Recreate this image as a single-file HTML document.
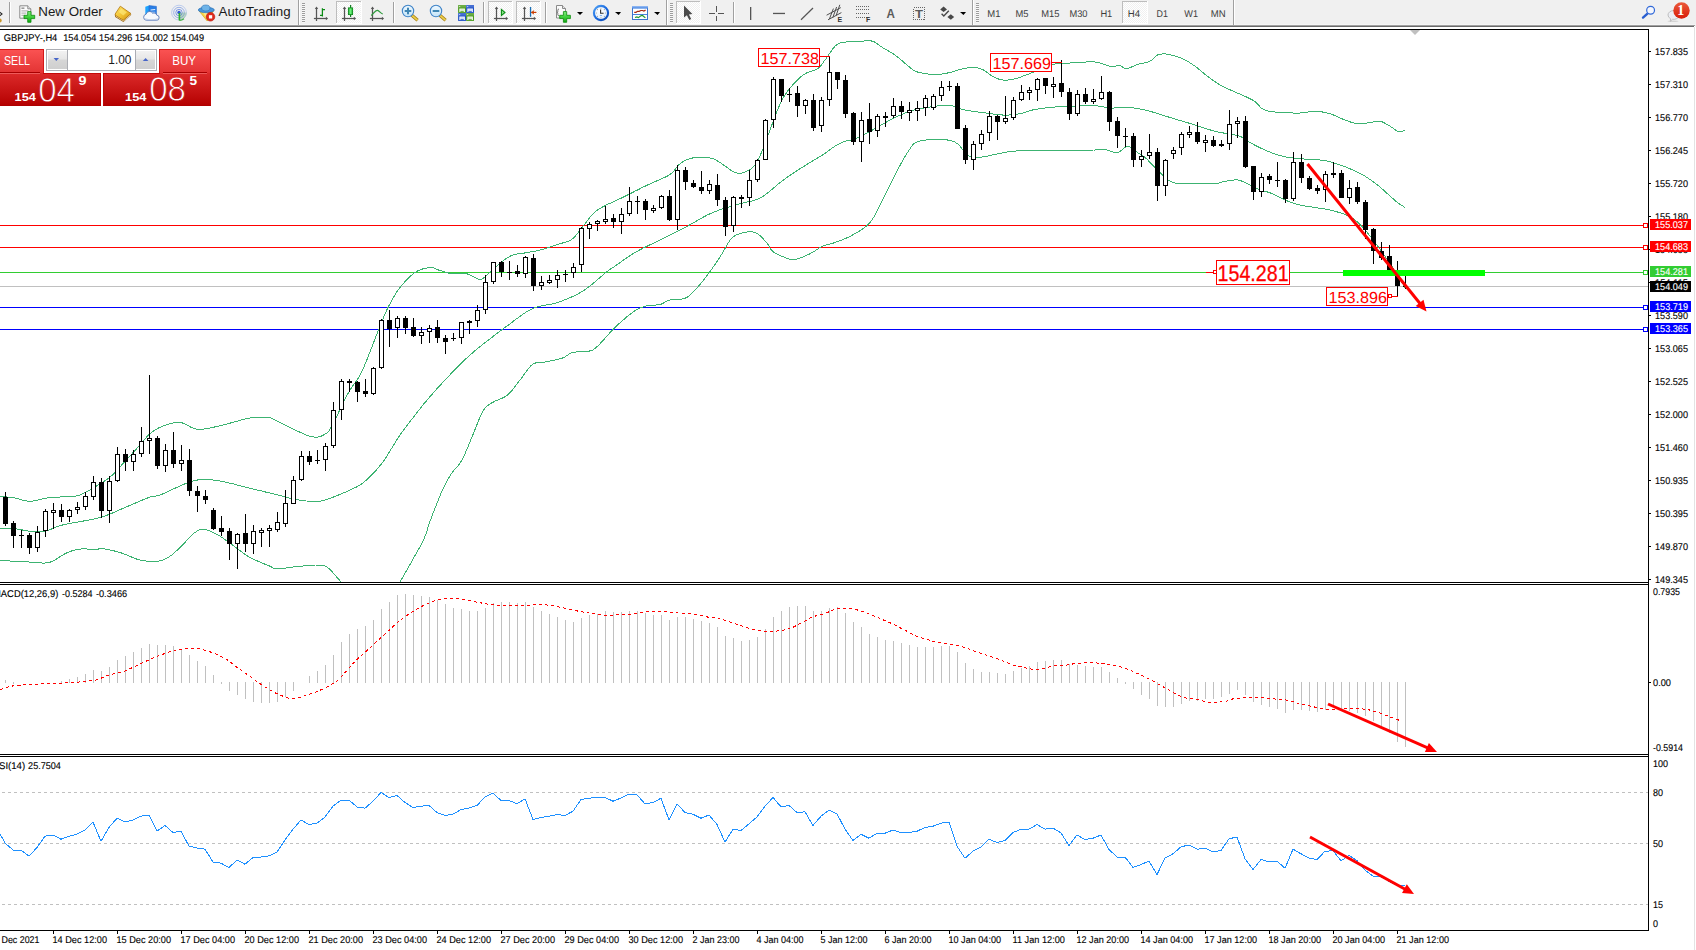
<!DOCTYPE html>
<html><head><meta charset="utf-8"><title>GBPJPY-,H4</title>
<style>
html,body{margin:0;padding:0;background:#fff;}
body{width:1696px;height:950px;position:relative;overflow:hidden;font-family:"Liberation Sans", sans-serif;}
#tb{position:absolute;left:0;top:0;width:1696px;height:25px;background:#f0f0f0;}
#tb0{position:absolute;left:0;top:24px;width:1696px;height:1px;background:#f5f5f5;}
#tbl{position:absolute;left:0;top:25px;width:1695px;height:1px;background:#a0a0a0;}
#tbl2{position:absolute;left:0;top:26px;width:1694px;height:1px;background:#696969;}
#tbr{position:absolute;left:1695px;top:25px;width:1px;height:2px;background:#f0f0f0;}
#redge{position:absolute;left:1694px;top:27px;width:1px;height:923px;background:#e3e3e3;}
</style></head><body>
<div id="tb"></div><div id="tb0"></div><div id="tbl"></div><div id="tbl2"></div><div id="tbr"></div><div id="redge"></div>
<svg id="chart" width="1696" height="950" viewBox="0 0 1696 950" style="position:absolute;left:0;top:0" font-family='"Liberation Sans", sans-serif' font-size="9.8px">
<style>#chart text{stroke:#000;stroke-width:0.12px;text-rendering:geometricPrecision} #chart text.w{stroke:#fff} #chart text.r{stroke:#f00;stroke-width:0.3px} #chart text.r0{stroke:none}</style>
<defs><clipPath id="cm"><rect x="0" y="30" width="1648" height="552"/></clipPath><clipPath id="c2"><rect x="0" y="585" width="1648" height="169"/></clipPath><clipPath id="c3"><rect x="0" y="757" width="1648" height="173"/></clipPath></defs>
<g shape-rendering="crispEdges">
<rect x="0" y="225" width="1648" height="1" fill="#ff0000"/>
<rect x="0" y="247" width="1648" height="1" fill="#ff0000"/>
<rect x="0" y="272" width="1648" height="1" fill="#32cd32"/>
<rect x="0" y="286" width="1648" height="1" fill="#c0c0c0"/>
<rect x="0" y="307" width="1648" height="1" fill="#0000ff"/>
<rect x="0" y="329" width="1648" height="1" fill="#0000ff"/>
</g>
<g clip-path="url(#cm)" shape-rendering="crispEdges">
<polyline points="0.0,496.2 1.2,496.4 2.7,496.5 4.5,496.7 6.6,496.9 8.7,497.2 10.9,497.4 13.0,497.7 15.0,498.0 16.8,498.4 18.6,498.9 20.4,499.4 22.2,500.0 24.0,500.5 25.9,500.9 27.9,501.2 30.0,501.2 31.6,501.2 33.3,501.0 35.0,500.7 36.7,500.3 38.5,499.9 40.3,499.4 42.1,499.0 44.0,498.5 46.0,498.1 48.0,497.8 50.0,497.5 51.8,497.3 53.7,497.2 55.7,497.1 57.8,497.0 59.9,497.0 62.1,496.9 64.2,496.9 66.2,496.8 68.2,496.7 70.2,496.7 71.9,496.6 73.6,496.4 75.0,496.2 77.5,495.8 79.3,495.4 80.6,494.8 81.9,494.2 83.2,493.4 85.0,492.5 86.7,491.6 88.5,490.7 90.4,489.6 92.3,488.4 94.3,487.3 96.3,486.1 98.2,484.9 100.0,483.8 101.9,482.5 103.8,481.4 105.5,480.3 107.3,479.1 109.0,477.9 110.7,476.5 112.5,475.0 114.3,473.3 116.0,471.5 117.7,469.6 119.5,467.6 121.2,465.5 123.1,463.4 125.0,461.2 126.8,459.3 128.7,457.2 130.7,455.1 132.7,453.0 134.6,450.8 136.5,448.8 138.3,446.8 140.0,445.0 141.9,442.8 143.6,440.7 145.2,438.8 146.7,437.0 148.2,435.4 150.0,433.8 151.6,432.4 153.2,431.2 154.9,430.1 156.7,429.0 158.5,428.0 160.4,427.1 162.5,426.2 164.2,425.6 166.1,425.0 168.0,424.3 169.9,423.8 171.9,423.2 174.0,422.8 176.0,422.6 178.0,422.4 180.0,422.5 181.9,422.8 183.8,423.5 185.6,424.4 187.5,425.3 189.4,426.4 191.3,427.4 193.3,428.2 195.3,428.9 197.5,429.2 199.2,429.3 200.9,429.3 202.6,429.2 204.4,429.0 206.1,428.7 208.0,428.4 209.8,428.0 211.8,427.6 213.7,427.2 215.8,426.7 217.8,426.2 220.0,425.8 221.7,425.4 223.5,424.9 225.3,424.5 227.2,423.9 229.2,423.4 231.2,422.8 233.2,422.3 235.2,421.7 237.2,421.1 239.2,420.6 241.2,420.0 243.1,419.5 245.0,419.1 246.7,418.7 248.4,418.3 250.0,418.0 252.4,417.6 254.7,417.4 256.8,417.2 258.9,417.1 260.9,417.1 262.7,417.1 264.4,417.2 266.0,417.3 267.4,417.4 268.8,417.5 270.5,417.6 270.9,417.7 271.7,418.3 275.0,420.0 276.3,420.6 277.7,421.3 279.4,422.1 281.2,423.0 283.2,424.0 285.3,425.1 287.4,426.2 289.7,427.3 292.0,428.4 294.2,429.5 296.5,430.6 298.8,431.7 300.9,432.7 303.0,433.6 305.0,434.4 306.8,435.2 308.5,435.8 310.0,436.2 312.9,436.9 315.3,437.2 317.4,437.2 319.2,436.8 320.8,436.3 322.2,435.7 323.6,435.0 325.0,434.2 327.4,432.7 329.1,430.7 330.7,428.2 332.5,425.0 334.2,421.8 336.0,418.1 337.9,414.0 339.7,410.0 341.5,406.2 343.2,402.9 344.7,399.8 346.3,396.6 348.1,393.4 350.0,390.0 351.5,387.6 353.1,385.4 354.7,383.3 356.4,380.9 358.3,378.0 360.3,374.5 362.5,370.0 364.1,366.5 365.8,362.3 367.8,357.6 369.7,352.6 371.8,347.4 373.8,342.1 375.8,337.0 377.7,332.0 379.5,327.4 381.1,323.4 382.5,320.0 385.2,313.6 386.9,309.8 388.2,307.0 390.0,303.8 391.5,301.0 393.0,298.3 394.5,295.5 396.2,292.8 398.0,290.1 400.0,287.5 401.6,285.5 403.4,283.4 405.3,281.3 407.2,279.3 409.2,277.3 411.1,275.5 413.1,273.9 415.0,272.5 416.9,271.3 418.9,270.4 420.8,269.5 422.8,268.9 424.7,268.3 426.6,268.0 428.4,267.7 430.0,267.5 431.9,267.5 433.6,267.9 435.2,268.5 436.7,269.2 438.2,269.9 440.0,270.5 441.7,271.0 443.4,271.5 445.2,272.1 447.0,272.6 448.9,273.1 450.7,273.5 452.5,273.8 454.3,273.8 456.1,273.7 457.9,273.5 459.6,273.2 461.4,273.1 463.2,273.0 465.0,273.2 466.9,273.8 468.8,274.5 470.8,275.5 472.7,276.5 474.5,277.4 476.1,278.2 477.5,278.8 479.5,279.5 480.7,279.6 482.5,278.8 483.8,277.9 485.2,276.7 486.7,275.2 488.4,273.6 490.3,271.8 492.5,270.0 494.1,268.6 495.9,267.1 497.8,265.4 499.8,263.7 501.8,261.9 503.9,260.3 506.0,258.7 508.0,257.4 510.0,256.2 512.0,255.4 514.0,254.7 516.0,254.2 518.1,253.8 520.1,253.5 522.0,253.3 523.9,253.1 525.8,252.8 527.5,252.5 529.5,252.1 531.2,251.8 532.8,251.5 534.4,251.3 536.0,251.0 537.9,250.5 540.0,250.0 541.6,249.6 543.3,249.1 545.1,248.5 547.0,248.0 549.0,247.3 551.0,246.7 553.0,246.1 554.9,245.5 556.7,244.9 558.4,244.3 560.0,243.8 562.2,243.1 564.1,242.5 565.9,242.0 567.5,241.5 569.1,240.9 570.8,240.0 572.5,238.8 574.3,237.1 576.1,235.2 577.9,233.0 579.6,230.6 581.4,228.2 583.2,225.9 585.0,223.8 586.7,221.7 588.2,219.7 589.7,217.7 591.3,215.7 593.0,213.8 595.1,211.9 597.5,210.0 599.0,209.0 600.7,208.0 602.4,207.0 604.3,206.1 606.2,205.1 608.2,204.1 610.2,203.2 612.3,202.3 614.4,201.3 616.5,200.4 618.5,199.4 620.5,198.5 622.5,197.5 624.4,196.5 626.4,195.6 628.3,194.6 630.3,193.6 632.2,192.6 634.2,191.6 636.1,190.6 638.1,189.7 640.0,188.7 641.9,187.7 643.8,186.8 645.7,185.9 647.5,185.0 649.5,184.1 651.5,183.1 653.6,182.2 655.6,181.4 657.7,180.5 659.7,179.6 661.6,178.8 663.5,177.9 665.3,177.1 667.0,176.2 668.6,175.4 670.0,174.5 672.4,172.7 674.2,170.8 675.6,168.8 676.9,167.0 678.3,165.3 680.0,163.8 681.6,162.6 683.2,161.6 684.9,160.6 686.7,159.8 688.5,159.1 690.4,158.5 692.5,158.0 694.3,157.7 696.2,157.5 698.2,157.4 700.3,157.4 702.5,157.4 704.5,157.5 706.5,157.6 708.4,157.8 710.0,158.0 712.0,158.4 713.7,159.0 715.2,159.6 716.6,160.4 718.1,161.4 720.0,162.5 721.7,163.6 723.5,164.9 725.5,166.3 727.5,167.8 729.5,169.3 731.5,170.6 733.3,171.7 735.0,172.5 737.0,173.1 738.7,173.4 740.3,173.3 741.9,173.0 743.4,172.6 745.0,172.0 746.7,171.3 748.4,170.4 750.2,169.4 751.9,168.2 753.5,166.7 755.0,165.0 757.1,161.9 758.9,158.3 760.7,154.3 762.5,150.0 764.4,145.4 766.2,140.3 768.1,135.1 770.0,130.0 771.9,124.9 773.8,119.7 775.6,114.6 777.5,110.0 779.3,105.8 781.1,102.0 782.9,98.5 785.0,95.0 786.5,92.7 788.1,90.5 789.8,88.4 791.6,86.3 793.3,84.3 795.0,82.5 796.6,80.8 798.2,79.2 799.8,77.7 801.5,76.2 803.2,74.9 805.0,73.8 806.7,72.9 808.5,72.2 810.4,71.5 812.4,71.0 814.2,70.3 816.0,69.6 817.5,68.8 819.7,66.9 821.4,64.9 823.1,62.6 825.0,60.0 826.6,57.9 828.2,55.4 830.0,52.8 831.8,50.3 833.4,48.0 835.0,46.2 836.8,44.6 838.3,43.6 840.0,43.0 842.5,42.5 844.0,42.2 845.8,42.0 847.8,41.9 849.9,41.7 852.0,41.6 854.2,41.5 856.3,41.4 858.2,41.3 860.0,41.2 862.1,41.1 864.0,41.0 865.8,40.8 867.6,40.7 869.3,40.8 870.9,40.9 872.5,41.2 874.3,41.9 875.9,42.8 877.5,43.9 879.1,45.1 880.7,46.3 882.5,47.5 884.1,48.5 885.8,49.4 887.6,50.4 889.3,51.4 891.2,52.5 893.1,53.7 895.0,55.0 896.8,56.4 898.8,58.0 900.8,59.7 902.8,61.4 904.8,63.2 906.7,64.8 908.5,66.3 910.0,67.5 912.2,69.2 913.6,70.4 915.1,71.2 917.5,72.0 919.0,72.4 920.8,72.8 922.7,73.1 924.7,73.5 926.8,73.8 929.0,74.1 931.1,74.3 933.1,74.4 935.0,74.5 937.0,74.5 939.0,74.3 941.0,74.1 943.0,73.8 944.9,73.5 946.7,73.2 948.4,72.8 950.0,72.5 951.9,72.0 953.6,71.5 955.2,71.0 956.7,70.5 958.2,70.0 960.0,69.5 961.7,69.1 963.5,68.7 965.3,68.4 967.2,68.0 969.0,67.8 970.8,67.6 972.5,67.5 974.3,67.5 976.0,67.7 977.7,68.0 979.3,68.3 980.9,68.8 982.5,69.5 984.2,70.4 985.8,71.5 987.5,72.8 989.2,74.0 990.8,75.2 992.5,76.2 994.1,77.1 995.7,77.9 997.3,78.6 999.0,79.2 1000.7,79.7 1002.5,80.0 1004.1,80.1 1005.7,80.2 1007.4,80.1 1009.2,79.9 1011.0,79.6 1012.9,79.2 1015.0,78.8 1016.7,78.3 1018.6,77.7 1020.5,77.1 1022.4,76.4 1024.4,75.6 1026.5,74.9 1028.5,74.1 1030.5,73.3 1032.5,72.5 1034.4,71.7 1036.3,70.8 1038.2,69.9 1040.1,69.0 1042.1,68.0 1044.0,67.1 1045.9,66.3 1047.9,65.6 1050.0,65.0 1051.7,64.6 1053.4,64.3 1055.1,64.0 1056.9,63.8 1058.6,63.7 1060.4,63.5 1062.3,63.4 1064.1,63.3 1066.0,63.2 1068.0,63.1 1070.0,63.0 1071.8,62.9 1073.7,62.7 1075.6,62.6 1077.7,62.4 1079.7,62.3 1081.8,62.2 1083.8,62.1 1085.9,62.0 1087.9,61.9 1089.8,61.9 1091.7,61.9 1093.4,61.9 1095.0,62.0 1097.4,62.3 1099.6,62.8 1101.6,63.4 1103.4,64.1 1105.2,64.8 1106.8,65.4 1108.4,65.9 1110.0,66.2 1112.0,66.4 1113.8,66.3 1115.5,66.1 1117.1,65.8 1118.6,65.7 1120.0,65.8 1121.7,66.4 1123.0,67.5 1124.4,68.4 1126.2,68.8 1127.8,68.4 1129.6,67.8 1131.5,67.0 1133.5,66.1 1135.5,65.2 1137.5,64.5 1139.3,64.0 1141.1,63.6 1143.0,63.2 1144.9,62.8 1146.8,62.4 1148.5,61.9 1150.0,61.2 1152.2,59.8 1153.9,58.0 1155.6,56.2 1157.5,55.0 1159.0,54.5 1160.5,54.1 1162.0,54.0 1163.7,53.9 1165.5,54.0 1167.5,54.2 1169.2,54.5 1171.0,54.9 1172.9,55.4 1174.8,56.0 1176.8,56.6 1178.8,57.3 1180.7,58.0 1182.5,58.8 1184.4,59.6 1186.3,60.6 1188.0,61.6 1189.8,62.7 1191.5,63.8 1193.2,65.0 1195.0,66.2 1196.8,67.5 1198.5,68.9 1200.2,70.4 1202.0,71.8 1203.7,73.3 1205.6,74.8 1207.5,76.2 1209.2,77.5 1210.7,78.7 1212.3,79.8 1213.9,81.0 1215.7,82.2 1217.6,83.5 1219.9,84.8 1222.5,86.2 1224.0,87.0 1225.7,87.8 1227.5,88.7 1229.4,89.5 1231.4,90.4 1233.5,91.4 1235.7,92.3 1237.8,93.2 1240.0,94.1 1242.1,95.0 1244.1,95.9 1246.1,96.8 1247.9,97.7 1249.6,98.5 1251.1,99.3 1252.5,100.0 1255.3,101.8 1257.2,103.5 1258.6,105.0 1259.7,106.4 1260.9,107.7 1262.5,108.8 1264.0,109.5 1265.5,110.1 1267.0,110.6 1268.6,111.1 1270.4,111.4 1272.5,111.7 1275.0,112.0 1276.5,112.2 1278.3,112.3 1280.1,112.4 1282.1,112.6 1284.2,112.7 1286.3,112.8 1288.4,112.9 1290.5,112.9 1292.6,113.0 1294.7,113.0 1296.6,113.0 1298.4,113.0 1300.0,113.0 1302.4,112.9 1304.5,112.7 1306.4,112.4 1308.1,112.0 1309.8,111.7 1311.5,111.5 1313.2,111.3 1315.0,111.2 1316.9,111.3 1318.8,111.5 1320.6,111.7 1322.5,112.0 1324.4,112.4 1326.2,112.8 1328.1,113.2 1330.0,113.8 1331.9,114.4 1333.8,115.1 1335.7,115.9 1337.7,116.8 1339.6,117.7 1341.4,118.5 1343.2,119.3 1345.0,120.0 1346.9,120.7 1348.8,121.4 1350.5,122.0 1352.3,122.6 1354.0,123.1 1355.7,123.5 1357.5,123.8 1359.3,123.8 1361.1,123.8 1363.0,123.6 1364.8,123.3 1366.6,123.0 1368.3,122.7 1370.0,122.5 1371.8,122.2 1373.5,121.9 1375.2,121.5 1376.8,121.2 1378.4,121.1 1380.0,121.2 1381.7,121.7 1383.4,122.4 1385.1,123.3 1386.8,124.3 1388.4,125.3 1390.0,126.2 1391.9,127.4 1393.7,128.8 1395.5,130.0 1397.2,131.1 1398.8,131.8 1400.6,131.8 1402.4,131.2 1403.9,130.5 1405.0,130.0" fill="none" stroke="#3cb371" stroke-width="1" />
<polyline points="0.0,528.2 1.2,528.3 2.7,528.3 4.5,528.3 6.6,528.3 8.7,528.4 10.9,528.5 13.0,528.6 15.0,528.8 16.9,529.0 18.8,529.3 20.6,529.7 22.5,530.0 24.4,530.4 26.2,530.8 28.1,531.0 30.0,531.2 31.9,531.4 33.7,531.6 35.5,531.7 37.3,531.8 39.2,531.8 41.1,531.7 43.0,531.6 45.0,531.2 46.7,530.8 48.3,530.3 49.9,529.7 51.5,529.0 53.2,528.2 55.1,527.4 57.2,526.6 59.7,525.8 62.5,525.0 64.0,524.6 65.7,524.3 67.4,523.9 69.3,523.5 71.3,523.2 73.3,522.8 75.4,522.4 77.5,522.1 79.7,521.7 81.9,521.3 84.1,520.9 86.2,520.5 88.4,520.1 90.5,519.7 92.6,519.3 94.6,518.8 96.5,518.4 98.3,518.0 100.0,517.5 102.3,516.8 104.5,516.1 106.6,515.4 108.6,514.6 110.5,513.9 112.4,513.1 114.2,512.3 116.0,511.5 117.7,510.7 119.5,509.9 121.3,509.1 123.1,508.3 125.0,507.5 127.0,506.7 129.0,505.8 131.1,504.9 133.2,504.0 135.3,503.1 137.4,502.2 139.5,501.3 141.5,500.4 143.4,499.6 145.3,498.9 147.0,498.2 148.6,497.5 150.0,497.0 152.4,496.3 153.9,496.0 155.0,496.0 156.1,496.0 157.6,495.8 160.0,495.0 161.5,494.4 163.1,493.7 165.0,492.9 167.0,492.0 169.1,491.0 171.3,490.0 173.4,489.0 175.6,488.0 177.7,487.0 179.8,486.0 181.7,485.2 183.4,484.4 185.0,483.8 187.5,482.8 189.6,482.0 191.4,481.4 193.0,481.0 194.5,480.6 196.0,480.3 197.5,480.0 199.2,479.7 200.7,479.5 202.2,479.4 203.7,479.3 205.4,479.4 207.5,479.5 209.1,479.6 210.7,479.8 212.5,480.0 214.4,480.2 216.3,480.5 218.3,480.8 220.5,481.1 222.7,481.5 225.0,482.0 226.7,482.4 228.4,482.8 230.3,483.2 232.1,483.7 234.1,484.1 236.0,484.6 238.0,485.2 240.0,485.7 242.1,486.2 244.1,486.7 246.1,487.3 248.1,487.8 250.0,488.2 251.9,488.7 253.9,489.2 255.9,489.7 257.9,490.2 260.0,490.6 262.0,491.1 264.0,491.6 265.9,492.1 267.9,492.5 269.7,493.0 271.6,493.4 273.3,493.8 275.0,494.2 277.3,494.8 279.4,495.4 281.4,495.9 283.3,496.5 285.1,497.0 286.9,497.5 288.8,497.9 290.6,498.3 292.5,498.8 294.5,499.1 296.4,499.5 298.4,499.9 300.4,500.2 302.4,500.5 304.4,500.8 306.3,501.0 308.2,501.1 310.0,501.2 311.9,501.3 313.7,501.4 315.4,501.4 317.0,501.4 318.8,501.3 320.6,501.0 322.7,500.6 325.0,500.0 326.6,499.5 328.4,498.9 330.3,498.3 332.3,497.5 334.3,496.7 336.4,495.9 338.6,495.0 340.7,494.2 342.7,493.3 344.7,492.4 346.6,491.6 348.4,490.8 350.0,490.0 352.3,488.9 354.4,488.0 356.2,487.1 358.0,486.2 359.6,485.2 361.3,484.1 363.1,482.8 365.0,481.2 366.8,479.7 368.7,477.9 370.6,476.1 372.6,474.1 374.6,472.0 376.6,469.8 378.6,467.4 380.5,465.0 382.5,462.5 384.4,459.8 386.3,457.0 388.2,453.9 390.1,450.8 392.1,447.6 394.0,444.4 395.9,441.2 397.9,438.0 400.0,435.0 401.8,432.5 403.7,429.9 405.7,427.2 407.7,424.5 409.8,421.9 411.8,419.3 413.7,416.8 415.6,414.4 417.2,412.3 418.7,410.4 420.0,408.8 422.2,405.8 422.8,405.0 425.0,402.5 426.2,401.1 427.7,399.4 429.2,397.6 431.0,395.6 432.8,393.5 434.7,391.3 436.7,389.0 438.8,386.8 440.9,384.5 442.9,382.2 445.0,380.0 446.8,378.1 448.6,376.2 450.4,374.3 452.3,372.3 454.3,370.3 456.2,368.3 458.2,366.3 460.2,364.4 462.1,362.4 464.1,360.5 466.1,358.6 468.1,356.8 470.0,355.0 472.0,353.3 473.9,351.6 476.0,349.9 478.0,348.2 480.1,346.5 482.1,344.9 484.1,343.4 486.1,341.8 488.0,340.3 489.9,338.9 491.7,337.5 493.4,336.2 495.0,335.0 497.3,333.2 499.4,331.6 501.2,330.2 503.0,328.9 504.6,327.7 506.3,326.4 508.1,325.2 510.0,323.8 511.9,322.4 513.8,320.9 515.8,319.4 517.9,317.9 519.9,316.4 521.9,314.9 523.9,313.5 525.8,312.3 527.5,311.2 529.5,310.1 531.3,309.2 532.9,308.5 534.6,307.9 536.2,307.4 538.0,306.8 540.0,306.2 541.7,305.8 543.4,305.5 545.2,305.2 547.0,304.9 548.9,304.6 550.9,304.3 553.0,303.8 555.2,303.2 557.5,302.5 559.2,301.9 560.9,301.3 562.8,300.6 564.6,299.9 566.6,299.1 568.5,298.3 570.5,297.5 572.5,296.6 574.6,295.6 576.6,294.6 578.6,293.5 580.6,292.4 582.5,291.2 584.5,290.0 586.5,288.5 588.7,286.9 590.8,285.2 593.0,283.5 595.1,281.7 597.2,279.9 599.3,278.2 601.2,276.5 603.0,275.0 604.7,273.5 606.2,272.3 607.5,271.2 610.0,269.3 610.9,268.8 611.6,268.4 613.8,267.0 615.1,266.1 616.7,265.0 618.4,263.7 620.2,262.4 622.2,261.0 624.2,259.5 626.4,258.1 628.5,256.6 630.7,255.2 632.9,253.8 635.0,252.5 636.8,251.5 638.6,250.5 640.5,249.5 642.4,248.5 644.3,247.5 646.3,246.6 648.2,245.7 650.2,244.7 652.2,243.8 654.2,242.8 656.1,241.9 658.1,241.0 660.0,240.0 661.9,239.0 663.8,238.1 665.8,237.1 667.7,236.2 669.6,235.2 671.5,234.3 673.5,233.4 675.4,232.4 677.3,231.4 679.2,230.5 681.2,229.5 683.1,228.5 685.0,227.5 686.9,226.5 688.8,225.4 690.8,224.3 692.7,223.2 694.6,222.1 696.5,221.0 698.5,219.8 700.4,218.7 702.3,217.7 704.2,216.6 706.2,215.6 708.1,214.6 710.0,213.8 711.9,212.9 713.9,212.1 715.9,211.3 717.9,210.6 719.8,209.8 721.8,209.2 723.8,208.5 725.7,207.9 727.7,207.3 729.6,206.7 731.4,206.1 733.2,205.5 735.0,205.0 737.0,204.4 739.1,203.9 741.1,203.4 743.1,202.9 745.0,202.5 746.9,202.1 748.7,201.7 750.4,201.3 752.0,200.9 753.6,200.4 755.0,200.0 757.1,199.3 758.7,198.8 760.0,198.2 761.3,197.5 762.9,196.5 765.0,195.0 766.4,193.9 768.0,192.7 769.6,191.4 771.3,189.9 773.1,188.4 775.0,186.8 776.9,185.1 778.9,183.5 780.9,181.9 783.0,180.3 785.0,178.8 786.8,177.5 788.7,176.2 790.7,174.8 792.7,173.5 794.8,172.1 796.9,170.7 799.0,169.4 801.1,168.1 803.1,166.9 805.0,165.7 806.8,164.5 808.5,163.5 810.0,162.5 812.4,161.0 814.5,159.8 816.2,158.7 817.8,157.8 819.3,157.0 820.8,156.1 822.5,155.0 824.3,153.8 826.1,152.5 828.0,151.1 829.8,149.8 831.6,148.5 833.3,147.3 835.0,146.2 836.8,145.2 838.5,144.2 840.2,143.4 841.8,142.6 843.4,141.9 845.0,141.2 846.6,140.8 848.1,140.5 849.5,140.2 851.1,140.0 852.9,139.5 855.0,138.8 856.6,138.1 858.3,137.3 860.2,136.4 862.1,135.4 864.1,134.4 866.2,133.3 868.3,132.2 870.4,131.1 872.5,130.0 874.2,129.1 876.0,128.1 877.8,127.0 879.7,125.9 881.6,124.8 883.4,123.8 885.3,122.7 887.2,121.6 889.0,120.6 890.8,119.6 892.5,118.8 894.6,117.7 896.7,116.7 898.8,115.8 900.9,114.9 902.9,114.0 904.8,113.2 906.7,112.5 908.4,111.8 910.0,111.2 912.0,110.5 913.7,110.0 915.2,109.7 916.6,109.4 918.1,109.1 920.0,108.8 921.6,108.4 923.4,108.1 925.3,107.7 927.2,107.4 929.2,107.1 931.1,106.8 933.1,106.5 935.0,106.2 936.9,106.0 938.8,105.8 940.6,105.6 942.5,105.4 944.4,105.3 946.2,105.3 948.1,105.3 950.0,105.5 951.9,105.8 953.7,106.3 955.5,106.9 957.3,107.5 959.2,108.2 961.1,108.9 963.0,109.5 965.0,110.0 966.8,110.4 968.7,110.7 970.6,111.0 972.5,111.2 974.4,111.5 976.4,111.7 978.4,112.0 980.4,112.2 982.5,112.5 984.2,112.7 986.0,113.0 987.8,113.3 989.7,113.6 991.6,113.8 993.4,114.1 995.3,114.4 997.2,114.6 999.0,114.8 1000.8,114.9 1002.5,115.0 1004.6,115.0 1006.7,115.0 1008.7,115.0 1010.7,114.8 1012.7,114.7 1014.6,114.5 1016.5,114.3 1018.3,114.0 1020.0,113.8 1022.0,113.3 1023.8,112.8 1025.4,112.3 1027.1,111.7 1028.7,111.1 1030.5,110.5 1032.5,110.0 1034.2,109.7 1036.0,109.3 1037.9,109.0 1039.8,108.7 1041.8,108.5 1043.8,108.2 1045.8,107.9 1047.9,107.7 1050.0,107.5 1051.7,107.3 1053.4,107.2 1055.1,107.0 1056.9,106.9 1058.6,106.8 1060.4,106.7 1062.3,106.6 1064.1,106.5 1066.0,106.4 1068.0,106.3 1070.0,106.2 1071.8,106.2 1073.7,106.1 1075.6,106.0 1077.7,106.0 1079.7,105.9 1081.8,105.8 1083.8,105.8 1085.9,105.7 1087.9,105.7 1089.8,105.7 1091.7,105.7 1093.4,105.7 1095.0,105.8 1097.3,105.9 1099.4,106.2 1101.2,106.5 1103.0,106.9 1104.6,107.2 1106.3,107.6 1108.1,107.8 1110.0,108.0 1111.8,108.0 1113.7,108.0 1115.6,107.9 1117.6,107.8 1119.6,107.7 1121.6,107.5 1123.6,107.5 1125.5,107.4 1127.5,107.5 1129.4,107.6 1131.2,107.8 1133.1,107.9 1134.9,108.1 1136.7,108.4 1138.6,108.7 1140.6,109.1 1142.7,109.5 1145.0,110.0 1146.7,110.4 1148.4,110.9 1150.3,111.4 1152.1,111.9 1154.1,112.5 1156.0,113.1 1158.0,113.8 1160.0,114.4 1162.1,115.0 1164.1,115.7 1166.1,116.3 1168.1,116.9 1170.0,117.5 1172.0,118.1 1174.0,118.7 1176.2,119.3 1178.3,120.0 1180.5,120.6 1182.7,121.3 1184.8,121.9 1186.8,122.5 1188.8,123.1 1190.6,123.7 1192.3,124.2 1193.7,124.6 1195.0,125.0 1197.8,125.9 1198.3,126.2 1200.0,126.8 1201.4,127.2 1203.1,127.7 1205.0,128.3 1207.0,129.0 1209.1,129.6 1211.2,130.2 1213.2,130.8 1215.0,131.2 1216.9,131.7 1218.8,132.1 1220.5,132.5 1222.3,132.8 1224.0,133.1 1225.7,133.4 1227.5,133.8 1229.3,134.1 1231.1,134.4 1233.0,134.6 1234.8,134.9 1236.6,135.3 1238.3,135.7 1240.0,136.2 1241.8,137.1 1243.3,138.0 1244.8,139.1 1246.4,140.2 1248.1,141.3 1250.0,142.5 1251.6,143.4 1253.3,144.3 1255.1,145.3 1257.0,146.2 1259.0,147.2 1261.0,148.2 1263.0,149.1 1265.0,150.0 1266.8,150.8 1268.7,151.5 1270.6,152.3 1272.6,153.1 1274.6,153.8 1276.6,154.5 1278.6,155.1 1280.5,155.7 1282.5,156.2 1284.4,156.7 1286.3,157.1 1288.2,157.4 1290.1,157.7 1292.1,157.9 1294.0,158.1 1295.9,158.4 1297.9,158.5 1300.0,158.8 1301.8,158.9 1303.6,159.0 1305.5,159.1 1307.4,159.2 1309.3,159.3 1311.3,159.4 1313.2,159.5 1315.0,159.6 1316.8,159.7 1318.5,159.8 1320.0,160.0 1322.1,160.3 1324.0,160.5 1325.6,160.8 1327.2,161.1 1328.8,161.5 1330.5,161.9 1332.5,162.5 1334.2,163.0 1336.1,163.6 1338.1,164.3 1340.1,165.0 1342.1,165.7 1344.2,166.4 1346.2,167.2 1348.1,168.0 1350.0,168.8 1352.0,169.6 1354.0,170.5 1355.9,171.4 1357.8,172.3 1359.7,173.3 1361.5,174.3 1363.3,175.2 1365.0,176.2 1366.9,177.4 1368.8,178.7 1370.7,179.9 1372.4,181.2 1374.2,182.5 1375.9,183.7 1377.5,185.0 1379.3,186.5 1381.0,187.9 1382.7,189.4 1384.3,190.8 1385.9,192.3 1387.5,193.8 1389.2,195.3 1390.9,196.8 1392.7,198.4 1394.4,199.9 1396.0,201.3 1397.5,202.5 1399.7,204.1 1401.9,205.5 1403.7,206.7 1405.0,207.5" fill="none" stroke="#3cb371" stroke-width="1" />
<polyline points="0.0,560.5 1.1,560.6 2.5,560.6 4.2,560.7 6.0,560.8 8.0,560.9 10.2,561.0 12.4,561.1 14.6,561.2 16.9,561.3 19.1,561.4 21.2,561.5 23.2,561.7 25.0,561.8 27.0,561.9 29.1,562.0 31.1,562.2 33.1,562.4 35.1,562.5 37.0,562.7 38.8,562.8 40.5,562.9 42.1,563.0 43.6,563.0 45.0,563.0 47.4,562.8 49.1,562.5 50.4,562.1 51.9,561.4 53.8,560.5 55.4,559.6 57.3,558.5 59.2,557.2 61.3,555.9 63.3,554.6 65.4,553.5 67.5,552.5 69.3,551.8 71.2,551.1 73.2,550.6 75.2,550.0 77.1,549.6 79.0,549.2 80.8,549.0 82.5,548.8 84.6,548.7 86.6,548.9 88.5,549.2 90.3,549.6 92.1,549.9 93.8,550.0 95.5,549.8 97.0,549.4 98.5,549.0 100.2,548.7 102.5,548.8 104.0,548.9 105.8,549.2 107.6,549.5 109.5,549.9 111.6,550.3 113.7,550.8 115.8,551.3 117.9,551.9 120.0,552.5 121.7,553.1 123.5,553.7 125.3,554.4 127.2,555.2 129.1,556.0 130.9,556.8 132.8,557.6 134.7,558.3 136.5,559.0 138.3,559.5 140.0,560.0 142.1,560.4 144.2,560.8 146.2,561.1 148.2,561.3 150.2,561.5 152.1,561.5 154.0,561.5 155.8,561.4 157.5,561.2 159.5,560.9 161.4,560.5 163.2,559.9 164.9,559.2 166.6,558.3 168.3,557.3 170.0,556.2 171.8,555.0 173.6,553.5 175.4,551.9 177.1,550.2 178.9,548.5 180.7,546.7 182.5,545.0 184.3,543.2 186.1,541.2 188.0,539.2 189.8,537.3 191.6,535.4 193.3,533.8 195.0,532.5 196.8,531.3 198.3,530.4 199.8,529.8 201.4,529.4 203.1,529.3 205.0,529.5 206.6,529.8 208.3,530.4 210.1,531.1 212.0,531.9 214.0,532.9 216.0,533.9 218.0,535.1 220.0,536.2 221.9,537.4 223.8,538.7 225.8,540.1 227.9,541.6 229.9,543.1 231.9,544.6 233.9,546.1 235.8,547.5 237.5,548.8 239.5,550.2 241.2,551.5 242.8,552.8 244.4,553.9 246.0,555.1 247.9,556.3 250.0,557.5 251.6,558.3 253.3,559.2 255.3,560.1 257.2,560.9 259.3,561.8 261.3,562.7 263.3,563.5 265.2,564.3 267.0,565.0 268.6,565.7 270.0,566.2 272.4,567.4 273.6,568.2 274.9,568.6 277.5,568.8 278.9,568.7 280.4,568.6 282.1,568.4 284.0,568.2 285.9,568.0 288.0,567.7 290.0,567.5 292.1,567.2 294.2,566.9 296.2,566.7 298.2,566.4 300.0,566.2 302.0,566.1 304.0,565.9 306.0,565.7 308.0,565.5 310.0,565.4 311.9,565.2 313.8,565.1 315.5,565.0 317.2,565.0 318.7,565.0 320.0,565.0 322.8,565.2 324.5,565.7 325.9,566.4 327.5,567.5 329.4,569.0 331.3,570.9 333.2,573.0 335.0,575.0 336.9,577.2 339.0,579.5 340.8,581.6 342.0,583.0" fill="none" stroke="#3cb371" stroke-width="1" />
<polyline points="399.5,583.0 400.7,580.9 402.3,578.1 404.2,574.7 406.4,570.9 408.5,567.1 410.6,563.4 412.5,560.0 414.6,556.3 416.6,552.7 418.7,549.1 420.6,545.6 422.4,542.1 424.0,538.8 425.9,534.1 427.3,529.8 428.7,525.2 430.6,519.7 432.3,515.2 434.3,510.1 436.4,504.7 438.6,499.3 440.6,494.3 442.5,490.0 444.4,485.8 446.2,482.4 447.9,479.4 449.6,476.6 451.4,473.7 453.0,471.4 454.8,469.4 456.5,467.5 458.3,465.4 460.0,463.1 461.8,460.3 463.5,457.0 465.2,453.2 467.0,449.2 468.7,445.0 470.4,440.8 472.2,436.6 474.0,432.2 475.8,427.5 477.7,422.8 479.5,418.3 481.3,414.2 483.1,410.9 484.9,408.1 486.7,406.3 488.4,405.0 490.3,403.8 492.5,402.5 494.1,401.6 495.9,400.7 497.8,400.0 499.8,399.2 501.8,398.3 503.8,397.4 505.7,396.3 507.5,395.0 509.4,393.3 511.3,391.3 513.0,389.1 514.8,386.9 516.5,384.5 518.2,382.2 520.0,380.0 521.8,377.7 523.6,375.2 525.4,372.7 527.1,370.3 528.9,368.0 530.7,366.0 532.5,364.5 534.2,363.5 535.9,362.9 537.6,362.6 539.3,362.5 541.1,362.4 543.0,362.3 545.0,362.0 546.8,361.6 548.7,361.2 550.7,360.8 552.8,360.4 555.0,360.0 557.0,359.5 559.0,359.0 560.9,358.5 562.5,358.0 564.5,357.1 566.2,356.1 567.6,355.1 569.0,354.1 570.6,353.2 572.5,352.5 574.1,352.2 575.8,352.0 577.7,351.9 579.7,351.9 581.7,351.8 583.7,351.8 585.5,351.7 587.2,351.5 588.8,351.2 590.8,350.7 592.4,350.2 593.7,349.4 595.3,348.2 597.5,346.2 599.1,344.7 600.8,342.9 602.7,340.9 604.7,338.7 606.7,336.3 608.8,334.0 610.9,331.7 613.0,329.5 615.0,327.5 617.0,325.6 619.0,323.7 621.0,321.9 623.1,320.1 625.1,318.4 627.0,316.7 628.9,315.2 630.8,313.8 632.5,312.5 634.5,311.1 636.4,309.9 638.1,309.0 639.7,308.2 641.4,307.5 643.1,306.8 645.0,306.2 646.8,305.8 648.7,305.6 650.7,305.4 652.7,305.3 654.6,305.2 656.5,305.0 658.3,304.8 660.0,304.5 661.9,303.9 663.5,303.1 665.0,302.2 666.5,301.4 668.1,300.6 670.0,300.0 671.7,299.7 673.5,299.5 675.5,299.4 677.5,299.4 679.5,299.3 681.5,299.1 683.3,298.8 685.0,298.2 686.9,297.3 688.6,296.2 690.2,295.0 691.7,293.5 693.2,291.8 695.0,290.0 696.6,288.3 698.4,286.4 700.1,284.3 701.9,282.1 703.8,279.8 705.6,277.5 707.5,275.0 709.4,272.4 711.4,269.6 713.4,266.6 715.5,263.7 717.5,260.7 719.4,257.8 721.2,255.0 723.2,251.8 725.0,248.5 726.8,245.3 728.6,242.4 730.4,239.7 732.5,237.5 734.2,236.2 736.1,235.1 738.1,234.2 740.1,233.5 742.1,233.0 744.0,232.6 745.8,232.3 747.5,232.0 749.5,231.8 751.2,231.7 752.8,231.9 754.4,232.3 755.9,232.9 757.5,233.8 759.2,235.0 761.0,236.6 762.8,238.4 764.5,240.3 766.1,242.1 767.5,243.8 769.3,246.5 770.5,248.9 772.5,251.2 773.9,252.2 775.6,253.3 777.5,254.2 779.4,255.2 781.4,256.1 783.3,256.8 785.0,257.5 786.8,258.2 788.3,258.8 789.8,259.2 791.4,259.6 793.1,259.7 795.0,259.5 796.7,259.2 798.5,258.6 800.4,258.0 802.3,257.2 804.3,256.4 806.3,255.5 808.2,254.6 810.0,253.8 811.9,252.7 813.8,251.6 815.5,250.5 817.3,249.3 819.0,248.2 820.7,247.1 822.5,246.2 824.2,245.6 825.9,245.0 827.6,244.6 829.3,244.2 831.1,243.7 833.0,243.2 835.0,242.5 836.7,241.9 838.6,241.2 840.5,240.5 842.4,239.7 844.4,238.9 846.5,238.0 848.5,237.1 850.5,236.1 852.5,235.0 854.5,233.9 856.5,232.8 858.5,231.6 860.6,230.3 862.6,229.0 864.5,227.6 866.4,226.0 868.3,224.4 870.0,222.5 872.0,219.9 873.9,217.0 875.6,214.0 877.2,210.7 878.9,207.3 880.6,203.7 882.5,200.0 884.3,196.5 886.1,192.8 888.1,188.9 890.0,184.9 891.9,180.9 893.9,177.1 895.7,173.4 897.5,170.0 899.5,166.4 901.4,162.9 903.3,159.5 905.1,156.4 906.9,153.5 908.5,151.0 910.0,148.8 912.0,145.9 913.4,144.1 915.0,142.8 917.5,141.8 919.0,141.3 920.8,140.8 922.8,140.5 924.9,140.2 927.0,139.9 929.2,139.7 931.3,139.5 933.2,139.4 935.0,139.2 937.1,139.2 939.0,139.1 940.8,139.2 942.6,139.3 944.3,139.5 945.9,139.7 947.5,140.0 949.3,140.4 951.0,140.8 952.7,141.2 954.3,141.8 955.9,142.7 957.5,143.8 959.2,145.3 960.8,147.3 962.5,149.5 964.2,151.6 965.8,153.5 967.5,155.0 969.1,156.0 970.6,156.7 972.0,157.1 973.6,157.4 975.4,157.5 977.5,157.5 979.1,157.4 980.9,157.2 982.8,156.9 984.8,156.6 986.8,156.2 988.9,155.7 991.0,155.3 993.0,154.9 995.0,154.5 996.9,154.1 998.8,153.7 1000.7,153.3 1002.6,152.9 1004.6,152.5 1006.5,152.2 1008.4,151.8 1010.4,151.5 1012.5,151.2 1014.2,151.1 1015.7,151.0 1017.3,150.8 1018.9,150.8 1020.4,150.7 1022.1,150.6 1023.8,150.6 1025.7,150.6 1027.8,150.6 1030.0,150.5 1032.5,150.5 1034.1,150.5 1035.8,150.5 1037.6,150.5 1039.5,150.5 1041.4,150.5 1043.5,150.5 1045.6,150.5 1047.7,150.5 1049.9,150.5 1052.0,150.5 1054.2,150.5 1056.4,150.5 1058.5,150.5 1060.6,150.5 1062.6,150.5 1064.6,150.5 1066.5,150.5 1068.3,150.5 1070.0,150.5 1072.4,150.5 1074.7,150.5 1076.9,150.4 1079.1,150.4 1081.2,150.3 1083.2,150.3 1085.2,150.3 1087.0,150.2 1088.8,150.2 1090.5,150.1 1092.1,150.1 1093.6,150.0 1095.0,150.0 1097.5,149.9 1099.4,149.7 1100.8,149.5 1102.0,149.4 1103.4,149.4 1105.0,149.5 1106.7,149.8 1108.5,150.4 1110.3,151.0 1112.2,151.7 1114.0,152.2 1115.8,152.5 1117.5,152.5 1119.3,151.8 1121.0,150.6 1122.7,149.2 1124.3,147.8 1125.9,146.7 1127.5,146.2 1129.2,146.6 1130.9,147.5 1132.7,148.7 1134.4,150.0 1136.0,151.4 1137.5,152.5 1139.5,153.7 1141.2,154.8 1143.0,155.9 1145.0,157.5 1146.5,158.8 1148.0,160.3 1149.5,162.0 1151.2,163.7 1153.0,165.6 1155.0,167.5 1156.6,169.1 1158.4,170.9 1160.3,172.9 1162.2,174.8 1164.2,176.8 1166.1,178.5 1168.1,180.0 1170.0,181.2 1171.9,182.1 1173.7,182.7 1175.5,183.1 1177.3,183.4 1179.2,183.5 1181.1,183.6 1183.0,183.6 1185.0,183.8 1186.9,183.9 1188.8,183.9 1190.8,183.9 1192.9,183.9 1194.9,183.9 1196.9,183.8 1198.9,183.8 1200.8,183.8 1202.5,183.8 1204.6,183.8 1206.5,183.8 1208.3,183.9 1210.1,183.9 1211.8,183.9 1213.4,183.9 1215.0,183.8 1216.8,183.5 1218.4,183.1 1220.0,182.6 1221.6,182.1 1223.2,181.6 1225.0,181.2 1226.7,181.0 1228.5,180.7 1230.3,180.4 1232.2,180.1 1234.0,180.0 1235.8,179.9 1237.5,180.0 1239.3,180.3 1241.0,180.8 1242.7,181.5 1244.3,182.2 1245.9,183.0 1247.5,183.8 1249.1,184.5 1250.6,185.3 1252.2,186.2 1253.8,187.0 1255.5,187.9 1257.5,188.8 1259.2,189.4 1261.0,190.0 1262.9,190.6 1264.8,191.2 1266.8,191.8 1268.8,192.4 1270.7,193.1 1272.5,193.8 1274.4,194.6 1276.2,195.5 1277.9,196.4 1279.6,197.3 1281.3,198.3 1283.1,199.2 1285.0,200.0 1286.8,200.7 1288.6,201.4 1290.4,202.1 1292.3,202.7 1294.3,203.4 1296.2,204.0 1298.1,204.5 1300.0,205.0 1301.9,205.4 1303.8,205.8 1305.6,206.1 1307.5,206.4 1309.4,206.7 1311.2,206.9 1313.1,207.2 1315.0,207.5 1316.9,207.8 1318.8,208.1 1320.6,208.3 1322.5,208.6 1324.4,208.9 1326.2,209.2 1328.1,209.6 1330.0,210.0 1331.9,210.5 1333.9,211.0 1335.8,211.5 1337.8,212.1 1339.7,212.7 1341.6,213.3 1343.4,213.9 1345.0,214.5 1347.0,215.3 1348.7,216.1 1350.3,216.9 1351.9,217.8 1353.4,218.8 1355.0,220.0 1356.7,221.4 1358.3,222.9 1360.0,224.6 1361.7,226.3 1363.3,228.1 1365.0,230.0 1366.7,231.9 1368.3,233.9 1370.0,236.0 1371.7,238.1 1373.3,240.3 1375.0,242.5 1376.7,244.7 1378.3,246.9 1380.0,249.2 1381.7,251.5 1383.3,253.9 1385.0,256.2 1386.7,258.7 1388.3,261.1 1390.0,263.6 1391.7,266.1 1393.3,268.7 1395.0,271.2 1396.8,274.1 1398.7,277.2 1400.6,280.3 1402.4,283.2 1403.9,285.7 1405.0,287.5" fill="none" stroke="#3cb371" stroke-width="1" />
</g>
<g shape-rendering="crispEdges">
<rect x="5" y="492" width="1" height="34" fill="#000"/>
<rect x="3" y="497" width="5" height="27" fill="#000"/>
<rect x="13" y="521" width="1" height="27" fill="#000"/>
<rect x="11" y="523" width="5" height="13" fill="#000"/>
<rect x="21" y="530" width="1" height="18" fill="#000"/>
<rect x="19" y="535" width="5" height="1" fill="#000"/>
<rect x="29" y="533" width="1" height="21" fill="#000"/>
<rect x="27" y="535" width="5" height="13" fill="#000"/>
<rect x="37" y="526" width="1" height="26" fill="#000"/>
<rect x="35" y="532" width="5" height="16" fill="#000"/>
<rect x="36" y="533" width="3" height="14" fill="#fff"/>
<rect x="45" y="509" width="1" height="28" fill="#000"/>
<rect x="43" y="511" width="5" height="20" fill="#000"/>
<rect x="44" y="512" width="3" height="18" fill="#fff"/>
<rect x="53" y="503" width="1" height="26" fill="#000"/>
<rect x="51" y="510" width="5" height="3" fill="#000"/>
<rect x="52" y="511" width="3" height="1" fill="#fff"/>
<rect x="61" y="504" width="1" height="18" fill="#000"/>
<rect x="59" y="510" width="5" height="7" fill="#000"/>
<rect x="69" y="509" width="1" height="13" fill="#000"/>
<rect x="67" y="510" width="5" height="7" fill="#000"/>
<rect x="68" y="511" width="3" height="5" fill="#fff"/>
<rect x="77" y="502" width="1" height="12" fill="#000"/>
<rect x="75" y="507" width="5" height="3" fill="#000"/>
<rect x="76" y="508" width="3" height="1" fill="#fff"/>
<rect x="85" y="492" width="1" height="18" fill="#000"/>
<rect x="83" y="496" width="5" height="11" fill="#000"/>
<rect x="84" y="497" width="3" height="9" fill="#fff"/>
<rect x="93" y="476" width="1" height="24" fill="#000"/>
<rect x="91" y="482" width="5" height="15" fill="#000"/>
<rect x="92" y="483" width="3" height="13" fill="#fff"/>
<rect x="101" y="478" width="1" height="40" fill="#000"/>
<rect x="99" y="482" width="5" height="29" fill="#000"/>
<rect x="109" y="476" width="1" height="47" fill="#000"/>
<rect x="107" y="481" width="5" height="30" fill="#000"/>
<rect x="108" y="482" width="3" height="28" fill="#fff"/>
<rect x="117" y="447" width="1" height="35" fill="#000"/>
<rect x="115" y="454" width="5" height="27" fill="#000"/>
<rect x="116" y="455" width="3" height="25" fill="#fff"/>
<rect x="125" y="449" width="1" height="22" fill="#000"/>
<rect x="123" y="454" width="5" height="8" fill="#000"/>
<rect x="133" y="450" width="1" height="21" fill="#000"/>
<rect x="131" y="454" width="5" height="8" fill="#000"/>
<rect x="132" y="455" width="3" height="6" fill="#fff"/>
<rect x="141" y="427" width="1" height="30" fill="#000"/>
<rect x="139" y="441" width="5" height="13" fill="#000"/>
<rect x="140" y="442" width="3" height="11" fill="#fff"/>
<rect x="149" y="375" width="1" height="79" fill="#000"/>
<rect x="147" y="438" width="5" height="3" fill="#000"/>
<rect x="148" y="439" width="3" height="1" fill="#fff"/>
<rect x="157" y="436" width="1" height="33" fill="#000"/>
<rect x="155" y="438" width="5" height="28" fill="#000"/>
<rect x="165" y="444" width="1" height="28" fill="#000"/>
<rect x="163" y="450" width="5" height="16" fill="#000"/>
<rect x="164" y="451" width="3" height="14" fill="#fff"/>
<rect x="173" y="432" width="1" height="36" fill="#000"/>
<rect x="171" y="450" width="5" height="14" fill="#000"/>
<rect x="181" y="445" width="1" height="26" fill="#000"/>
<rect x="179" y="460" width="5" height="4" fill="#000"/>
<rect x="180" y="461" width="3" height="2" fill="#fff"/>
<rect x="189" y="449" width="1" height="47" fill="#000"/>
<rect x="187" y="460" width="5" height="31" fill="#000"/>
<rect x="197" y="486" width="1" height="26" fill="#000"/>
<rect x="195" y="491" width="5" height="5" fill="#000"/>
<rect x="205" y="490" width="1" height="14" fill="#000"/>
<rect x="203" y="496" width="5" height="4" fill="#000"/>
<rect x="213" y="508" width="1" height="22" fill="#000"/>
<rect x="211" y="510" width="5" height="19" fill="#000"/>
<rect x="221" y="516" width="1" height="20" fill="#000"/>
<rect x="219" y="528" width="5" height="4" fill="#000"/>
<rect x="229" y="528" width="1" height="32" fill="#000"/>
<rect x="227" y="531" width="5" height="13" fill="#000"/>
<rect x="237" y="533" width="1" height="36" fill="#000"/>
<rect x="235" y="534" width="5" height="10" fill="#000"/>
<rect x="236" y="535" width="3" height="8" fill="#fff"/>
<rect x="245" y="514" width="1" height="38" fill="#000"/>
<rect x="243" y="533" width="5" height="11" fill="#000"/>
<rect x="253" y="525" width="1" height="29" fill="#000"/>
<rect x="251" y="531" width="5" height="13" fill="#000"/>
<rect x="252" y="532" width="3" height="11" fill="#fff"/>
<rect x="261" y="528" width="1" height="19" fill="#000"/>
<rect x="259" y="530" width="5" height="3" fill="#000"/>
<rect x="260" y="531" width="3" height="1" fill="#fff"/>
<rect x="269" y="525" width="1" height="22" fill="#000"/>
<rect x="267" y="528" width="5" height="3" fill="#000"/>
<rect x="268" y="529" width="3" height="1" fill="#fff"/>
<rect x="277" y="512" width="1" height="20" fill="#000"/>
<rect x="275" y="522" width="5" height="8" fill="#000"/>
<rect x="276" y="523" width="3" height="6" fill="#fff"/>
<rect x="285" y="490" width="1" height="37" fill="#000"/>
<rect x="283" y="503" width="5" height="21" fill="#000"/>
<rect x="284" y="504" width="3" height="19" fill="#fff"/>
<rect x="293" y="476" width="1" height="28" fill="#000"/>
<rect x="291" y="480" width="5" height="24" fill="#000"/>
<rect x="292" y="481" width="3" height="22" fill="#fff"/>
<rect x="301" y="451" width="1" height="30" fill="#000"/>
<rect x="299" y="456" width="5" height="24" fill="#000"/>
<rect x="300" y="457" width="3" height="22" fill="#fff"/>
<rect x="309" y="451" width="1" height="14" fill="#000"/>
<rect x="307" y="456" width="5" height="6" fill="#000"/>
<rect x="317" y="450" width="1" height="14" fill="#000"/>
<rect x="315" y="460" width="5" height="1" fill="#000"/>
<rect x="325" y="443" width="1" height="28" fill="#000"/>
<rect x="323" y="446" width="5" height="14" fill="#000"/>
<rect x="324" y="447" width="3" height="12" fill="#fff"/>
<rect x="333" y="402" width="1" height="46" fill="#000"/>
<rect x="331" y="410" width="5" height="36" fill="#000"/>
<rect x="332" y="411" width="3" height="34" fill="#fff"/>
<rect x="341" y="379" width="1" height="41" fill="#000"/>
<rect x="339" y="381" width="5" height="29" fill="#000"/>
<rect x="340" y="382" width="3" height="27" fill="#fff"/>
<rect x="349" y="379" width="1" height="13" fill="#000"/>
<rect x="347" y="381" width="5" height="2" fill="#000"/>
<rect x="357" y="381" width="1" height="21" fill="#000"/>
<rect x="355" y="382" width="5" height="10" fill="#000"/>
<rect x="365" y="379" width="1" height="18" fill="#000"/>
<rect x="363" y="391" width="5" height="3" fill="#000"/>
<rect x="373" y="367" width="1" height="28" fill="#000"/>
<rect x="371" y="368" width="5" height="26" fill="#000"/>
<rect x="372" y="369" width="3" height="24" fill="#fff"/>
<rect x="381" y="319" width="1" height="50" fill="#000"/>
<rect x="379" y="320" width="5" height="48" fill="#000"/>
<rect x="380" y="321" width="3" height="46" fill="#fff"/>
<rect x="389" y="310" width="1" height="37" fill="#000"/>
<rect x="387" y="320" width="5" height="9" fill="#000"/>
<rect x="397" y="316" width="1" height="22" fill="#000"/>
<rect x="395" y="318" width="5" height="10" fill="#000"/>
<rect x="396" y="319" width="3" height="8" fill="#fff"/>
<rect x="405" y="316" width="1" height="18" fill="#000"/>
<rect x="403" y="318" width="5" height="10" fill="#000"/>
<rect x="413" y="318" width="1" height="19" fill="#000"/>
<rect x="411" y="327" width="5" height="9" fill="#000"/>
<rect x="421" y="327" width="1" height="17" fill="#000"/>
<rect x="419" y="332" width="5" height="4" fill="#000"/>
<rect x="420" y="333" width="3" height="2" fill="#fff"/>
<rect x="429" y="325" width="1" height="18" fill="#000"/>
<rect x="427" y="328" width="5" height="4" fill="#000"/>
<rect x="428" y="329" width="3" height="2" fill="#fff"/>
<rect x="437" y="320" width="1" height="23" fill="#000"/>
<rect x="435" y="327" width="5" height="11" fill="#000"/>
<rect x="445" y="335" width="1" height="19" fill="#000"/>
<rect x="443" y="338" width="5" height="4" fill="#000"/>
<rect x="453" y="333" width="1" height="8" fill="#000"/>
<rect x="451" y="338" width="5" height="1" fill="#000"/>
<rect x="461" y="322" width="1" height="22" fill="#000"/>
<rect x="459" y="322" width="5" height="16" fill="#000"/>
<rect x="460" y="323" width="3" height="14" fill="#fff"/>
<rect x="469" y="320" width="1" height="14" fill="#000"/>
<rect x="467" y="321" width="5" height="2" fill="#000"/>
<rect x="477" y="305" width="1" height="22" fill="#000"/>
<rect x="475" y="310" width="5" height="11" fill="#000"/>
<rect x="476" y="311" width="3" height="9" fill="#fff"/>
<rect x="485" y="275" width="1" height="39" fill="#000"/>
<rect x="483" y="282" width="5" height="28" fill="#000"/>
<rect x="484" y="283" width="3" height="26" fill="#fff"/>
<rect x="493" y="262" width="1" height="22" fill="#000"/>
<rect x="491" y="262" width="5" height="20" fill="#000"/>
<rect x="492" y="263" width="3" height="18" fill="#fff"/>
<rect x="501" y="261" width="1" height="16" fill="#000"/>
<rect x="499" y="262" width="5" height="10" fill="#000"/>
<rect x="509" y="261" width="1" height="19" fill="#000"/>
<rect x="507" y="272" width="5" height="1" fill="#000"/>
<rect x="517" y="265" width="1" height="12" fill="#000"/>
<rect x="515" y="271" width="5" height="3" fill="#000"/>
<rect x="525" y="256" width="1" height="22" fill="#000"/>
<rect x="523" y="257" width="5" height="17" fill="#000"/>
<rect x="524" y="258" width="3" height="15" fill="#fff"/>
<rect x="533" y="254" width="1" height="37" fill="#000"/>
<rect x="531" y="258" width="5" height="28" fill="#000"/>
<rect x="541" y="276" width="1" height="14" fill="#000"/>
<rect x="539" y="282" width="5" height="4" fill="#000"/>
<rect x="540" y="283" width="3" height="2" fill="#fff"/>
<rect x="549" y="275" width="1" height="9" fill="#000"/>
<rect x="547" y="280" width="5" height="3" fill="#000"/>
<rect x="548" y="281" width="3" height="1" fill="#fff"/>
<rect x="557" y="270" width="1" height="18" fill="#000"/>
<rect x="555" y="275" width="5" height="5" fill="#000"/>
<rect x="556" y="276" width="3" height="3" fill="#fff"/>
<rect x="565" y="270" width="1" height="12" fill="#000"/>
<rect x="563" y="274" width="5" height="1" fill="#000"/>
<rect x="573" y="263" width="1" height="15" fill="#000"/>
<rect x="571" y="267" width="5" height="6" fill="#000"/>
<rect x="572" y="268" width="3" height="4" fill="#fff"/>
<rect x="581" y="227" width="1" height="45" fill="#000"/>
<rect x="579" y="228" width="5" height="37" fill="#000"/>
<rect x="580" y="229" width="3" height="35" fill="#fff"/>
<rect x="589" y="222" width="1" height="17" fill="#000"/>
<rect x="587" y="224" width="5" height="5" fill="#000"/>
<rect x="588" y="225" width="3" height="3" fill="#fff"/>
<rect x="597" y="220" width="1" height="11" fill="#000"/>
<rect x="595" y="221" width="5" height="3" fill="#000"/>
<rect x="596" y="222" width="3" height="1" fill="#fff"/>
<rect x="605" y="206" width="1" height="18" fill="#000"/>
<rect x="603" y="219" width="5" height="3" fill="#000"/>
<rect x="604" y="220" width="3" height="1" fill="#fff"/>
<rect x="613" y="214" width="1" height="14" fill="#000"/>
<rect x="611" y="218" width="5" height="4" fill="#000"/>
<rect x="621" y="208" width="1" height="26" fill="#000"/>
<rect x="619" y="214" width="5" height="8" fill="#000"/>
<rect x="620" y="215" width="3" height="6" fill="#fff"/>
<rect x="629" y="187" width="1" height="29" fill="#000"/>
<rect x="627" y="201" width="5" height="13" fill="#000"/>
<rect x="628" y="202" width="3" height="11" fill="#fff"/>
<rect x="637" y="196" width="1" height="18" fill="#000"/>
<rect x="635" y="201" width="5" height="1" fill="#000"/>
<rect x="645" y="199" width="1" height="21" fill="#000"/>
<rect x="643" y="201" width="5" height="9" fill="#000"/>
<rect x="653" y="205" width="1" height="8" fill="#000"/>
<rect x="651" y="208" width="5" height="3" fill="#000"/>
<rect x="652" y="209" width="3" height="1" fill="#fff"/>
<rect x="661" y="195" width="1" height="14" fill="#000"/>
<rect x="659" y="196" width="5" height="12" fill="#000"/>
<rect x="660" y="197" width="3" height="10" fill="#fff"/>
<rect x="669" y="190" width="1" height="31" fill="#000"/>
<rect x="667" y="196" width="5" height="24" fill="#000"/>
<rect x="677" y="165" width="1" height="65" fill="#000"/>
<rect x="675" y="170" width="5" height="50" fill="#000"/>
<rect x="676" y="171" width="3" height="48" fill="#fff"/>
<rect x="685" y="167" width="1" height="23" fill="#000"/>
<rect x="683" y="170" width="5" height="12" fill="#000"/>
<rect x="693" y="180" width="1" height="8" fill="#000"/>
<rect x="691" y="183" width="5" height="4" fill="#000"/>
<rect x="701" y="171" width="1" height="23" fill="#000"/>
<rect x="699" y="187" width="5" height="4" fill="#000"/>
<rect x="709" y="180" width="1" height="14" fill="#000"/>
<rect x="707" y="184" width="5" height="7" fill="#000"/>
<rect x="708" y="185" width="3" height="5" fill="#fff"/>
<rect x="717" y="174" width="1" height="32" fill="#000"/>
<rect x="715" y="185" width="5" height="15" fill="#000"/>
<rect x="725" y="197" width="1" height="39" fill="#000"/>
<rect x="723" y="200" width="5" height="27" fill="#000"/>
<rect x="733" y="196" width="1" height="36" fill="#000"/>
<rect x="731" y="197" width="5" height="29" fill="#000"/>
<rect x="732" y="198" width="3" height="27" fill="#fff"/>
<rect x="741" y="195" width="1" height="13" fill="#000"/>
<rect x="739" y="197" width="5" height="2" fill="#000"/>
<rect x="749" y="170" width="1" height="36" fill="#000"/>
<rect x="747" y="180" width="5" height="18" fill="#000"/>
<rect x="748" y="181" width="3" height="16" fill="#fff"/>
<rect x="757" y="159" width="1" height="23" fill="#000"/>
<rect x="755" y="160" width="5" height="20" fill="#000"/>
<rect x="756" y="161" width="3" height="18" fill="#fff"/>
<rect x="765" y="119" width="1" height="41" fill="#000"/>
<rect x="763" y="120" width="5" height="40" fill="#000"/>
<rect x="764" y="121" width="3" height="38" fill="#fff"/>
<rect x="773" y="77" width="1" height="51" fill="#000"/>
<rect x="771" y="79" width="5" height="41" fill="#000"/>
<rect x="772" y="80" width="3" height="39" fill="#fff"/>
<rect x="781" y="79" width="1" height="23" fill="#000"/>
<rect x="779" y="79" width="5" height="17" fill="#000"/>
<rect x="789" y="88" width="1" height="14" fill="#000"/>
<rect x="787" y="94" width="5" height="1" fill="#000"/>
<rect x="797" y="86" width="1" height="31" fill="#000"/>
<rect x="795" y="93" width="5" height="13" fill="#000"/>
<rect x="805" y="99" width="1" height="15" fill="#000"/>
<rect x="803" y="100" width="5" height="6" fill="#000"/>
<rect x="804" y="101" width="3" height="4" fill="#fff"/>
<rect x="813" y="94" width="1" height="37" fill="#000"/>
<rect x="811" y="100" width="5" height="28" fill="#000"/>
<rect x="821" y="97" width="1" height="35" fill="#000"/>
<rect x="819" y="100" width="5" height="26" fill="#000"/>
<rect x="820" y="101" width="3" height="24" fill="#fff"/>
<rect x="829" y="56" width="1" height="50" fill="#000"/>
<rect x="827" y="72" width="5" height="28" fill="#000"/>
<rect x="828" y="73" width="3" height="26" fill="#fff"/>
<rect x="837" y="72" width="1" height="17" fill="#000"/>
<rect x="835" y="72" width="5" height="8" fill="#000"/>
<rect x="845" y="75" width="1" height="43" fill="#000"/>
<rect x="843" y="80" width="5" height="34" fill="#000"/>
<rect x="853" y="112" width="1" height="33" fill="#000"/>
<rect x="851" y="113" width="5" height="29" fill="#000"/>
<rect x="861" y="112" width="1" height="50" fill="#000"/>
<rect x="859" y="120" width="5" height="22" fill="#000"/>
<rect x="860" y="121" width="3" height="20" fill="#fff"/>
<rect x="869" y="103" width="1" height="41" fill="#000"/>
<rect x="867" y="119" width="5" height="13" fill="#000"/>
<rect x="877" y="114" width="1" height="23" fill="#000"/>
<rect x="875" y="116" width="5" height="15" fill="#000"/>
<rect x="876" y="117" width="3" height="13" fill="#fff"/>
<rect x="885" y="112" width="1" height="15" fill="#000"/>
<rect x="883" y="116" width="5" height="2" fill="#000"/>
<rect x="893" y="98" width="1" height="20" fill="#000"/>
<rect x="891" y="106" width="5" height="10" fill="#000"/>
<rect x="892" y="107" width="3" height="8" fill="#fff"/>
<rect x="901" y="101" width="1" height="18" fill="#000"/>
<rect x="899" y="106" width="5" height="6" fill="#000"/>
<rect x="909" y="102" width="1" height="19" fill="#000"/>
<rect x="907" y="110" width="5" height="3" fill="#000"/>
<rect x="908" y="111" width="3" height="1" fill="#fff"/>
<rect x="917" y="101" width="1" height="20" fill="#000"/>
<rect x="915" y="108" width="5" height="3" fill="#000"/>
<rect x="916" y="109" width="3" height="1" fill="#fff"/>
<rect x="925" y="95" width="1" height="21" fill="#000"/>
<rect x="923" y="98" width="5" height="10" fill="#000"/>
<rect x="924" y="99" width="3" height="8" fill="#fff"/>
<rect x="933" y="94" width="1" height="16" fill="#000"/>
<rect x="931" y="96" width="5" height="12" fill="#000"/>
<rect x="932" y="97" width="3" height="10" fill="#fff"/>
<rect x="941" y="81" width="1" height="20" fill="#000"/>
<rect x="939" y="87" width="5" height="9" fill="#000"/>
<rect x="940" y="88" width="3" height="7" fill="#fff"/>
<rect x="949" y="81" width="1" height="10" fill="#000"/>
<rect x="947" y="86" width="5" height="1" fill="#000"/>
<rect x="957" y="83" width="1" height="46" fill="#000"/>
<rect x="955" y="86" width="5" height="43" fill="#000"/>
<rect x="965" y="125" width="1" height="39" fill="#000"/>
<rect x="963" y="128" width="5" height="32" fill="#000"/>
<rect x="973" y="141" width="1" height="29" fill="#000"/>
<rect x="971" y="144" width="5" height="16" fill="#000"/>
<rect x="972" y="145" width="3" height="14" fill="#fff"/>
<rect x="981" y="130" width="1" height="20" fill="#000"/>
<rect x="979" y="134" width="5" height="10" fill="#000"/>
<rect x="980" y="135" width="3" height="8" fill="#fff"/>
<rect x="989" y="111" width="1" height="30" fill="#000"/>
<rect x="987" y="116" width="5" height="17" fill="#000"/>
<rect x="988" y="117" width="3" height="15" fill="#fff"/>
<rect x="997" y="115" width="1" height="25" fill="#000"/>
<rect x="995" y="116" width="5" height="6" fill="#000"/>
<rect x="1005" y="96" width="1" height="28" fill="#000"/>
<rect x="1003" y="118" width="5" height="4" fill="#000"/>
<rect x="1004" y="119" width="3" height="2" fill="#fff"/>
<rect x="1013" y="97" width="1" height="23" fill="#000"/>
<rect x="1011" y="100" width="5" height="18" fill="#000"/>
<rect x="1012" y="101" width="3" height="16" fill="#fff"/>
<rect x="1021" y="85" width="1" height="16" fill="#000"/>
<rect x="1019" y="92" width="5" height="8" fill="#000"/>
<rect x="1020" y="93" width="3" height="6" fill="#fff"/>
<rect x="1029" y="87" width="1" height="13" fill="#000"/>
<rect x="1027" y="90" width="5" height="3" fill="#000"/>
<rect x="1028" y="91" width="3" height="1" fill="#fff"/>
<rect x="1037" y="78" width="1" height="23" fill="#000"/>
<rect x="1035" y="79" width="5" height="11" fill="#000"/>
<rect x="1036" y="80" width="3" height="9" fill="#fff"/>
<rect x="1045" y="78" width="1" height="16" fill="#000"/>
<rect x="1043" y="78" width="5" height="8" fill="#000"/>
<rect x="1053" y="77" width="1" height="21" fill="#000"/>
<rect x="1051" y="84" width="5" height="3" fill="#000"/>
<rect x="1052" y="85" width="3" height="1" fill="#fff"/>
<rect x="1061" y="60" width="1" height="37" fill="#000"/>
<rect x="1059" y="83" width="5" height="9" fill="#000"/>
<rect x="1069" y="88" width="1" height="32" fill="#000"/>
<rect x="1067" y="92" width="5" height="22" fill="#000"/>
<rect x="1077" y="90" width="1" height="26" fill="#000"/>
<rect x="1075" y="94" width="5" height="20" fill="#000"/>
<rect x="1076" y="95" width="3" height="18" fill="#fff"/>
<rect x="1085" y="88" width="1" height="16" fill="#000"/>
<rect x="1083" y="94" width="5" height="8" fill="#000"/>
<rect x="1093" y="89" width="1" height="15" fill="#000"/>
<rect x="1091" y="99" width="5" height="3" fill="#000"/>
<rect x="1092" y="100" width="3" height="1" fill="#fff"/>
<rect x="1101" y="76" width="1" height="24" fill="#000"/>
<rect x="1099" y="92" width="5" height="7" fill="#000"/>
<rect x="1100" y="93" width="3" height="5" fill="#fff"/>
<rect x="1109" y="91" width="1" height="40" fill="#000"/>
<rect x="1107" y="92" width="5" height="30" fill="#000"/>
<rect x="1117" y="117" width="1" height="31" fill="#000"/>
<rect x="1115" y="121" width="5" height="15" fill="#000"/>
<rect x="1125" y="128" width="1" height="19" fill="#000"/>
<rect x="1123" y="136" width="5" height="1" fill="#000"/>
<rect x="1133" y="133" width="1" height="34" fill="#000"/>
<rect x="1131" y="136" width="5" height="24" fill="#000"/>
<rect x="1141" y="150" width="1" height="17" fill="#000"/>
<rect x="1139" y="156" width="5" height="4" fill="#000"/>
<rect x="1140" y="157" width="3" height="2" fill="#fff"/>
<rect x="1149" y="134" width="1" height="25" fill="#000"/>
<rect x="1147" y="152" width="5" height="4" fill="#000"/>
<rect x="1148" y="153" width="3" height="2" fill="#fff"/>
<rect x="1157" y="148" width="1" height="53" fill="#000"/>
<rect x="1155" y="152" width="5" height="34" fill="#000"/>
<rect x="1165" y="159" width="1" height="37" fill="#000"/>
<rect x="1163" y="160" width="5" height="26" fill="#000"/>
<rect x="1164" y="161" width="3" height="24" fill="#fff"/>
<rect x="1173" y="147" width="1" height="12" fill="#000"/>
<rect x="1171" y="150" width="5" height="4" fill="#000"/>
<rect x="1172" y="151" width="3" height="2" fill="#fff"/>
<rect x="1181" y="132" width="1" height="23" fill="#000"/>
<rect x="1179" y="134" width="5" height="14" fill="#000"/>
<rect x="1180" y="135" width="3" height="12" fill="#fff"/>
<rect x="1189" y="126" width="1" height="12" fill="#000"/>
<rect x="1187" y="132" width="5" height="3" fill="#000"/>
<rect x="1188" y="133" width="3" height="1" fill="#fff"/>
<rect x="1197" y="122" width="1" height="22" fill="#000"/>
<rect x="1195" y="132" width="5" height="10" fill="#000"/>
<rect x="1205" y="135" width="1" height="17" fill="#000"/>
<rect x="1203" y="140" width="5" height="3" fill="#000"/>
<rect x="1204" y="141" width="3" height="1" fill="#fff"/>
<rect x="1213" y="136" width="1" height="11" fill="#000"/>
<rect x="1211" y="140" width="5" height="6" fill="#000"/>
<rect x="1221" y="140" width="1" height="7" fill="#000"/>
<rect x="1219" y="144" width="5" height="2" fill="#000"/>
<rect x="1229" y="110" width="1" height="40" fill="#000"/>
<rect x="1227" y="124" width="5" height="20" fill="#000"/>
<rect x="1228" y="125" width="3" height="18" fill="#fff"/>
<rect x="1237" y="117" width="1" height="21" fill="#000"/>
<rect x="1235" y="121" width="5" height="3" fill="#000"/>
<rect x="1236" y="122" width="3" height="1" fill="#fff"/>
<rect x="1245" y="116" width="1" height="52" fill="#000"/>
<rect x="1243" y="121" width="5" height="46" fill="#000"/>
<rect x="1253" y="166" width="1" height="34" fill="#000"/>
<rect x="1251" y="166" width="5" height="26" fill="#000"/>
<rect x="1261" y="173" width="1" height="24" fill="#000"/>
<rect x="1259" y="177" width="5" height="15" fill="#000"/>
<rect x="1260" y="178" width="3" height="13" fill="#fff"/>
<rect x="1269" y="174" width="1" height="10" fill="#000"/>
<rect x="1267" y="176" width="5" height="4" fill="#000"/>
<rect x="1277" y="162" width="1" height="25" fill="#000"/>
<rect x="1275" y="180" width="5" height="1" fill="#000"/>
<rect x="1285" y="179" width="1" height="24" fill="#000"/>
<rect x="1283" y="180" width="5" height="19" fill="#000"/>
<rect x="1293" y="152" width="1" height="49" fill="#000"/>
<rect x="1291" y="162" width="5" height="37" fill="#000"/>
<rect x="1292" y="163" width="3" height="35" fill="#fff"/>
<rect x="1301" y="154" width="1" height="29" fill="#000"/>
<rect x="1299" y="162" width="5" height="16" fill="#000"/>
<rect x="1309" y="176" width="1" height="14" fill="#000"/>
<rect x="1307" y="178" width="5" height="11" fill="#000"/>
<rect x="1317" y="185" width="1" height="9" fill="#000"/>
<rect x="1315" y="188" width="5" height="3" fill="#000"/>
<rect x="1325" y="171" width="1" height="31" fill="#000"/>
<rect x="1323" y="174" width="5" height="16" fill="#000"/>
<rect x="1324" y="175" width="3" height="14" fill="#fff"/>
<rect x="1333" y="162" width="1" height="16" fill="#000"/>
<rect x="1331" y="173" width="5" height="2" fill="#000"/>
<rect x="1341" y="170" width="1" height="28" fill="#000"/>
<rect x="1339" y="173" width="5" height="25" fill="#000"/>
<rect x="1349" y="180" width="1" height="24" fill="#000"/>
<rect x="1347" y="188" width="5" height="10" fill="#000"/>
<rect x="1348" y="189" width="3" height="8" fill="#fff"/>
<rect x="1357" y="182" width="1" height="22" fill="#000"/>
<rect x="1355" y="187" width="5" height="15" fill="#000"/>
<rect x="1365" y="200" width="1" height="39" fill="#000"/>
<rect x="1363" y="202" width="5" height="28" fill="#000"/>
<rect x="1373" y="228" width="1" height="36" fill="#000"/>
<rect x="1371" y="229" width="5" height="22" fill="#000"/>
<rect x="1381" y="242" width="1" height="18" fill="#000"/>
<rect x="1379" y="251" width="5" height="7" fill="#000"/>
<rect x="1389" y="245" width="1" height="27" fill="#000"/>
<rect x="1387" y="256" width="5" height="14" fill="#000"/>
<rect x="1397" y="261" width="1" height="35" fill="#000"/>
<rect x="1395" y="270" width="5" height="16" fill="#000"/>
<rect x="1405" y="271" width="1" height="18" fill="#000"/>
<rect x="1403" y="286" width="5" height="1" fill="#000"/>
</g>
<g shape-rendering="crispEdges">
<rect x="5" y="680" width="1" height="3" fill="#c0c0c0"/>
<rect x="13" y="682" width="1" height="2" fill="#c0c0c0"/>
<rect x="61" y="681" width="1" height="2" fill="#c0c0c0"/>
<rect x="69" y="679" width="1" height="4" fill="#c0c0c0"/>
<rect x="77" y="677" width="1" height="6" fill="#c0c0c0"/>
<rect x="85" y="674" width="1" height="9" fill="#c0c0c0"/>
<rect x="93" y="670" width="1" height="13" fill="#c0c0c0"/>
<rect x="101" y="671" width="1" height="12" fill="#c0c0c0"/>
<rect x="109" y="667" width="1" height="16" fill="#c0c0c0"/>
<rect x="117" y="660" width="1" height="23" fill="#c0c0c0"/>
<rect x="125" y="656" width="1" height="27" fill="#c0c0c0"/>
<rect x="133" y="652" width="1" height="31" fill="#c0c0c0"/>
<rect x="141" y="648" width="1" height="35" fill="#c0c0c0"/>
<rect x="149" y="644" width="1" height="39" fill="#c0c0c0"/>
<rect x="157" y="645" width="1" height="38" fill="#c0c0c0"/>
<rect x="165" y="645" width="1" height="38" fill="#c0c0c0"/>
<rect x="173" y="646" width="1" height="37" fill="#c0c0c0"/>
<rect x="181" y="650" width="1" height="33" fill="#c0c0c0"/>
<rect x="189" y="655" width="1" height="28" fill="#c0c0c0"/>
<rect x="197" y="661" width="1" height="22" fill="#c0c0c0"/>
<rect x="205" y="666" width="1" height="17" fill="#c0c0c0"/>
<rect x="213" y="675" width="1" height="8" fill="#c0c0c0"/>
<rect x="221" y="682" width="1" height="2" fill="#c0c0c0"/>
<rect x="229" y="682" width="1" height="9" fill="#c0c0c0"/>
<rect x="237" y="682" width="1" height="13" fill="#c0c0c0"/>
<rect x="245" y="682" width="1" height="17" fill="#c0c0c0"/>
<rect x="253" y="682" width="1" height="20" fill="#c0c0c0"/>
<rect x="261" y="682" width="1" height="21" fill="#c0c0c0"/>
<rect x="269" y="682" width="1" height="21" fill="#c0c0c0"/>
<rect x="277" y="682" width="1" height="20" fill="#c0c0c0"/>
<rect x="285" y="682" width="1" height="15" fill="#c0c0c0"/>
<rect x="293" y="682" width="1" height="9" fill="#c0c0c0"/>
<rect x="309" y="676" width="1" height="7" fill="#c0c0c0"/>
<rect x="317" y="671" width="1" height="12" fill="#c0c0c0"/>
<rect x="325" y="665" width="1" height="18" fill="#c0c0c0"/>
<rect x="333" y="655" width="1" height="28" fill="#c0c0c0"/>
<rect x="341" y="642" width="1" height="41" fill="#c0c0c0"/>
<rect x="349" y="634" width="1" height="49" fill="#c0c0c0"/>
<rect x="357" y="629" width="1" height="54" fill="#c0c0c0"/>
<rect x="365" y="626" width="1" height="57" fill="#c0c0c0"/>
<rect x="373" y="620" width="1" height="63" fill="#c0c0c0"/>
<rect x="381" y="609" width="1" height="74" fill="#c0c0c0"/>
<rect x="389" y="602" width="1" height="81" fill="#c0c0c0"/>
<rect x="397" y="595" width="1" height="88" fill="#c0c0c0"/>
<rect x="405" y="594" width="1" height="89" fill="#c0c0c0"/>
<rect x="413" y="595" width="1" height="88" fill="#c0c0c0"/>
<rect x="421" y="596" width="1" height="87" fill="#c0c0c0"/>
<rect x="429" y="597" width="1" height="86" fill="#c0c0c0"/>
<rect x="437" y="600" width="1" height="83" fill="#c0c0c0"/>
<rect x="445" y="604" width="1" height="79" fill="#c0c0c0"/>
<rect x="453" y="608" width="1" height="75" fill="#c0c0c0"/>
<rect x="461" y="609" width="1" height="74" fill="#c0c0c0"/>
<rect x="469" y="611" width="1" height="72" fill="#c0c0c0"/>
<rect x="477" y="611" width="1" height="72" fill="#c0c0c0"/>
<rect x="485" y="608" width="1" height="75" fill="#c0c0c0"/>
<rect x="493" y="603" width="1" height="80" fill="#c0c0c0"/>
<rect x="501" y="602" width="1" height="81" fill="#c0c0c0"/>
<rect x="509" y="602" width="1" height="81" fill="#c0c0c0"/>
<rect x="517" y="603" width="1" height="80" fill="#c0c0c0"/>
<rect x="525" y="602" width="1" height="81" fill="#c0c0c0"/>
<rect x="533" y="607" width="1" height="76" fill="#c0c0c0"/>
<rect x="541" y="611" width="1" height="72" fill="#c0c0c0"/>
<rect x="549" y="614" width="1" height="69" fill="#c0c0c0"/>
<rect x="557" y="617" width="1" height="66" fill="#c0c0c0"/>
<rect x="565" y="620" width="1" height="63" fill="#c0c0c0"/>
<rect x="573" y="622" width="1" height="61" fill="#c0c0c0"/>
<rect x="581" y="618" width="1" height="65" fill="#c0c0c0"/>
<rect x="589" y="615" width="1" height="68" fill="#c0c0c0"/>
<rect x="597" y="614" width="1" height="69" fill="#c0c0c0"/>
<rect x="605" y="611" width="1" height="72" fill="#c0c0c0"/>
<rect x="613" y="612" width="1" height="71" fill="#c0c0c0"/>
<rect x="621" y="612" width="1" height="71" fill="#c0c0c0"/>
<rect x="629" y="611" width="1" height="72" fill="#c0c0c0"/>
<rect x="637" y="611" width="1" height="72" fill="#c0c0c0"/>
<rect x="645" y="613" width="1" height="70" fill="#c0c0c0"/>
<rect x="653" y="615" width="1" height="68" fill="#c0c0c0"/>
<rect x="661" y="615" width="1" height="68" fill="#c0c0c0"/>
<rect x="669" y="620" width="1" height="63" fill="#c0c0c0"/>
<rect x="677" y="617" width="1" height="66" fill="#c0c0c0"/>
<rect x="685" y="617" width="1" height="66" fill="#c0c0c0"/>
<rect x="693" y="619" width="1" height="64" fill="#c0c0c0"/>
<rect x="701" y="621" width="1" height="62" fill="#c0c0c0"/>
<rect x="709" y="623" width="1" height="60" fill="#c0c0c0"/>
<rect x="717" y="627" width="1" height="56" fill="#c0c0c0"/>
<rect x="725" y="636" width="1" height="47" fill="#c0c0c0"/>
<rect x="733" y="638" width="1" height="45" fill="#c0c0c0"/>
<rect x="741" y="641" width="1" height="42" fill="#c0c0c0"/>
<rect x="749" y="640" width="1" height="43" fill="#c0c0c0"/>
<rect x="757" y="637" width="1" height="46" fill="#c0c0c0"/>
<rect x="765" y="629" width="1" height="54" fill="#c0c0c0"/>
<rect x="773" y="617" width="1" height="66" fill="#c0c0c0"/>
<rect x="781" y="611" width="1" height="72" fill="#c0c0c0"/>
<rect x="789" y="607" width="1" height="76" fill="#c0c0c0"/>
<rect x="797" y="606" width="1" height="77" fill="#c0c0c0"/>
<rect x="805" y="606" width="1" height="77" fill="#c0c0c0"/>
<rect x="813" y="611" width="1" height="72" fill="#c0c0c0"/>
<rect x="821" y="611" width="1" height="72" fill="#c0c0c0"/>
<rect x="829" y="608" width="1" height="75" fill="#c0c0c0"/>
<rect x="837" y="607" width="1" height="76" fill="#c0c0c0"/>
<rect x="845" y="613" width="1" height="70" fill="#c0c0c0"/>
<rect x="853" y="622" width="1" height="61" fill="#c0c0c0"/>
<rect x="861" y="627" width="1" height="56" fill="#c0c0c0"/>
<rect x="869" y="634" width="1" height="49" fill="#c0c0c0"/>
<rect x="877" y="637" width="1" height="46" fill="#c0c0c0"/>
<rect x="885" y="640" width="1" height="43" fill="#c0c0c0"/>
<rect x="893" y="641" width="1" height="42" fill="#c0c0c0"/>
<rect x="901" y="643" width="1" height="40" fill="#c0c0c0"/>
<rect x="909" y="645" width="1" height="38" fill="#c0c0c0"/>
<rect x="917" y="647" width="1" height="36" fill="#c0c0c0"/>
<rect x="925" y="647" width="1" height="36" fill="#c0c0c0"/>
<rect x="933" y="647" width="1" height="36" fill="#c0c0c0"/>
<rect x="941" y="646" width="1" height="37" fill="#c0c0c0"/>
<rect x="949" y="646" width="1" height="37" fill="#c0c0c0"/>
<rect x="957" y="652" width="1" height="31" fill="#c0c0c0"/>
<rect x="965" y="663" width="1" height="20" fill="#c0c0c0"/>
<rect x="973" y="669" width="1" height="14" fill="#c0c0c0"/>
<rect x="981" y="672" width="1" height="11" fill="#c0c0c0"/>
<rect x="989" y="672" width="1" height="11" fill="#c0c0c0"/>
<rect x="997" y="673" width="1" height="10" fill="#c0c0c0"/>
<rect x="1005" y="674" width="1" height="9" fill="#c0c0c0"/>
<rect x="1013" y="671" width="1" height="12" fill="#c0c0c0"/>
<rect x="1021" y="668" width="1" height="15" fill="#c0c0c0"/>
<rect x="1029" y="666" width="1" height="17" fill="#c0c0c0"/>
<rect x="1037" y="662" width="1" height="21" fill="#c0c0c0"/>
<rect x="1045" y="661" width="1" height="22" fill="#c0c0c0"/>
<rect x="1053" y="660" width="1" height="23" fill="#c0c0c0"/>
<rect x="1061" y="660" width="1" height="23" fill="#c0c0c0"/>
<rect x="1069" y="664" width="1" height="19" fill="#c0c0c0"/>
<rect x="1077" y="665" width="1" height="18" fill="#c0c0c0"/>
<rect x="1085" y="666" width="1" height="17" fill="#c0c0c0"/>
<rect x="1093" y="667" width="1" height="16" fill="#c0c0c0"/>
<rect x="1101" y="667" width="1" height="16" fill="#c0c0c0"/>
<rect x="1109" y="672" width="1" height="11" fill="#c0c0c0"/>
<rect x="1117" y="678" width="1" height="5" fill="#c0c0c0"/>
<rect x="1125" y="682" width="1" height="2" fill="#c0c0c0"/>
<rect x="1133" y="682" width="1" height="7" fill="#c0c0c0"/>
<rect x="1141" y="682" width="1" height="13" fill="#c0c0c0"/>
<rect x="1149" y="682" width="1" height="17" fill="#c0c0c0"/>
<rect x="1157" y="682" width="1" height="24" fill="#c0c0c0"/>
<rect x="1165" y="682" width="1" height="25" fill="#c0c0c0"/>
<rect x="1173" y="682" width="1" height="25" fill="#c0c0c0"/>
<rect x="1181" y="682" width="1" height="22" fill="#c0c0c0"/>
<rect x="1189" y="682" width="1" height="19" fill="#c0c0c0"/>
<rect x="1197" y="682" width="1" height="19" fill="#c0c0c0"/>
<rect x="1205" y="682" width="1" height="17" fill="#c0c0c0"/>
<rect x="1213" y="682" width="1" height="17" fill="#c0c0c0"/>
<rect x="1221" y="682" width="1" height="15" fill="#c0c0c0"/>
<rect x="1229" y="682" width="1" height="12" fill="#c0c0c0"/>
<rect x="1237" y="682" width="1" height="8" fill="#c0c0c0"/>
<rect x="1245" y="682" width="1" height="13" fill="#c0c0c0"/>
<rect x="1253" y="682" width="1" height="20" fill="#c0c0c0"/>
<rect x="1261" y="682" width="1" height="23" fill="#c0c0c0"/>
<rect x="1269" y="682" width="1" height="25" fill="#c0c0c0"/>
<rect x="1277" y="682" width="1" height="27" fill="#c0c0c0"/>
<rect x="1285" y="682" width="1" height="31" fill="#c0c0c0"/>
<rect x="1293" y="682" width="1" height="28" fill="#c0c0c0"/>
<rect x="1301" y="682" width="1" height="28" fill="#c0c0c0"/>
<rect x="1309" y="682" width="1" height="29" fill="#c0c0c0"/>
<rect x="1317" y="682" width="1" height="30" fill="#c0c0c0"/>
<rect x="1325" y="682" width="1" height="28" fill="#c0c0c0"/>
<rect x="1333" y="682" width="1" height="25" fill="#c0c0c0"/>
<rect x="1341" y="682" width="1" height="28" fill="#c0c0c0"/>
<rect x="1349" y="682" width="1" height="29" fill="#c0c0c0"/>
<rect x="1357" y="682" width="1" height="31" fill="#c0c0c0"/>
<rect x="1365" y="682" width="1" height="34" fill="#c0c0c0"/>
<rect x="1373" y="682" width="1" height="39" fill="#c0c0c0"/>
<rect x="1381" y="682" width="1" height="44" fill="#c0c0c0"/>
<rect x="1389" y="682" width="1" height="51" fill="#c0c0c0"/>
<rect x="1397" y="682" width="1" height="60" fill="#c0c0c0"/>
<rect x="1405" y="682" width="1" height="65" fill="#c0c0c0"/>
</g>
<g clip-path="url(#c2)" shape-rendering="crispEdges">
<polyline points="0.0,689.5 1.1,689.2 2.7,688.7 4.5,688.1 6.5,687.5 8.6,686.9 10.6,686.4 12.5,686.0 14.2,685.7 15.7,685.5 17.2,685.3 18.8,685.2 20.5,685.0 22.6,684.9 25.0,684.8 26.5,684.7 28.2,684.6 29.9,684.5 31.8,684.4 33.7,684.3 35.7,684.2 37.7,684.1 39.8,684.0 41.9,683.9 44.0,683.8 46.0,683.7 48.0,683.6 50.0,683.5 51.9,683.4 53.9,683.3 55.9,683.2 57.9,683.1 59.8,683.1 61.8,683.0 63.8,682.9 65.7,682.8 67.7,682.7 69.6,682.6 71.4,682.5 73.2,682.4 75.0,682.2 77.0,682.1 79.1,682.0 81.1,681.8 83.1,681.7 85.0,681.5 86.9,681.3 88.7,681.1 90.4,680.9 92.0,680.7 93.6,680.5 95.0,680.2 97.2,679.7 99.0,679.1 100.5,678.5 101.9,677.8 103.3,677.1 105.0,676.5 106.7,675.9 108.5,675.4 110.4,674.8 112.4,674.2 114.2,673.7 116.0,673.2 117.5,672.8 119.6,672.3 121.1,672.1 122.7,671.8 125.0,671.0 126.5,670.4 128.2,669.6 130.1,668.7 132.0,667.8 134.0,666.8 136.1,665.9 138.1,664.9 140.0,664.0 141.8,663.1 143.6,662.3 145.4,661.5 147.2,660.6 149.0,659.8 150.9,658.9 152.9,658.1 155.0,657.2 156.6,656.6 158.4,655.9 160.2,655.2 162.1,654.5 164.0,653.8 166.0,653.1 167.9,652.4 169.8,651.8 171.6,651.2 173.4,650.7 175.0,650.2 177.1,649.8 179.2,649.4 181.2,649.1 183.1,648.9 185.0,648.8 186.7,648.7 188.4,648.6 190.0,648.5 191.9,648.4 193.6,648.4 195.2,648.4 196.7,648.5 198.2,648.7 200.0,649.0 201.7,649.3 203.4,649.8 205.2,650.3 207.0,650.8 208.9,651.4 210.7,652.1 212.5,652.8 214.3,653.4 216.1,654.1 217.9,654.9 219.6,655.7 221.4,656.5 223.2,657.5 225.0,658.5 226.8,659.6 228.6,660.9 230.4,662.2 232.1,663.6 233.9,665.0 235.7,666.4 237.5,667.8 239.3,669.0 241.1,670.3 242.9,671.5 244.6,672.8 246.4,674.0 248.2,675.3 250.0,676.5 251.8,677.8 253.6,679.0 255.4,680.3 257.1,681.6 258.9,682.8 260.7,684.1 262.5,685.2 264.3,686.4 266.1,687.6 267.9,688.7 269.6,689.8 271.4,690.8 273.2,691.8 275.0,692.8 276.8,693.6 278.7,694.5 280.6,695.3 282.5,696.0 284.3,696.7 286.0,697.3 287.5,697.8 289.7,698.3 291.4,698.6 293.1,698.7 295.0,698.5 296.5,698.3 298.0,697.9 299.5,697.5 301.2,697.0 303.0,696.4 305.0,695.8 306.6,695.2 308.4,694.6 310.3,694.0 312.2,693.3 314.2,692.6 316.1,691.9 318.1,691.1 320.0,690.2 321.9,689.4 323.9,688.4 326.0,687.4 328.0,686.3 329.9,685.3 331.8,684.2 333.5,683.2 335.0,682.2 337.3,680.6 338.9,679.1 340.4,677.5 342.5,675.2 344.0,673.6 345.6,671.8 347.4,669.8 349.2,667.7 351.1,665.6 353.0,663.5 355.0,661.5 356.8,659.8 358.6,658.1 360.4,656.3 362.3,654.6 364.3,652.9 366.2,651.2 368.1,649.5 370.0,647.8 371.9,646.0 373.7,644.3 375.6,642.6 377.4,640.9 379.3,639.2 381.2,637.5 383.1,635.8 385.0,634.0 386.8,632.4 388.6,630.7 390.4,629.0 392.3,627.3 394.1,625.5 396.0,623.9 397.8,622.3 399.5,620.8 401.2,619.4 403.4,617.8 405.4,616.3 407.4,615.0 409.3,613.7 411.2,612.5 413.1,611.4 415.0,610.2 416.9,609.1 418.7,608.1 420.4,607.0 422.2,606.1 424.0,605.2 425.7,604.3 427.5,603.5 429.3,602.8 431.1,602.1 432.9,601.4 434.6,600.9 436.4,600.3 438.2,599.9 440.0,599.5 441.8,599.2 443.6,598.9 445.4,598.8 447.1,598.6 448.9,598.6 450.7,598.5 452.5,598.5 454.3,598.5 456.1,598.6 457.9,598.7 459.6,598.8 461.4,599.0 463.2,599.2 465.0,599.5 466.8,599.8 468.5,600.2 470.2,600.6 472.0,601.0 473.7,601.4 475.6,601.9 477.5,602.2 479.2,602.6 481.0,602.9 482.8,603.3 484.7,603.6 486.6,604.0 488.5,604.3 490.5,604.5 492.5,604.8 494.3,604.9 496.3,605.0 498.2,605.1 500.2,605.1 502.3,605.2 504.3,605.2 506.2,605.2 508.2,605.2 510.0,605.2 512.0,605.3 513.9,605.3 515.8,605.3 517.7,605.3 519.5,605.3 521.3,605.3 523.1,605.3 525.0,605.2 526.9,605.2 528.8,605.1 530.7,604.9 532.7,604.8 534.6,604.7 536.4,604.6 538.2,604.5 540.0,604.5 541.9,604.6 543.8,604.7 545.7,604.9 547.4,605.1 549.2,605.3 550.9,605.5 552.5,605.8 554.3,606.0 555.8,606.3 557.3,606.6 558.9,607.0 560.6,607.3 562.5,607.8 564.1,608.1 565.9,608.5 567.8,608.9 569.7,609.3 571.7,609.8 573.6,610.2 575.6,610.6 577.5,611.0 579.4,611.4 581.2,611.7 583.1,612.0 585.0,612.3 586.9,612.7 588.8,612.9 590.6,613.2 592.5,613.5 594.4,613.8 596.3,614.0 598.2,614.3 600.2,614.6 602.1,614.8 603.9,615.0 605.7,615.1 607.5,615.2 609.4,615.3 611.3,615.3 613.0,615.2 614.8,615.1 616.5,615.0 618.2,614.9 620.0,614.8 621.7,614.7 623.4,614.6 625.1,614.5 626.8,614.5 628.6,614.3 630.5,614.2 632.5,614.0 634.3,613.8 636.1,613.5 638.1,613.2 640.2,612.9 642.3,612.5 644.4,612.2 646.4,611.9 648.2,611.7 650.0,611.5 652.0,611.4 653.9,611.3 655.7,611.3 657.4,611.3 659.1,611.3 660.8,611.4 662.5,611.5 664.2,611.6 665.8,611.8 667.3,611.9 668.9,612.1 670.7,612.3 672.7,612.5 675.0,612.8 676.6,612.9 678.3,613.0 680.2,613.1 682.2,613.3 684.3,613.4 686.4,613.5 688.5,613.7 690.6,613.8 692.5,614.0 694.4,614.2 696.0,614.3 697.5,614.5 699.9,614.9 701.7,615.3 703.1,615.7 704.4,616.2 705.8,616.6 707.5,617.0 709.2,617.3 710.9,617.6 712.7,617.8 714.5,618.0 716.4,618.3 718.2,618.6 720.0,619.0 721.8,619.4 723.6,619.9 725.4,620.5 727.1,621.0 728.9,621.6 730.7,622.2 732.5,622.8 734.3,623.3 736.1,624.0 737.9,624.6 739.6,625.2 741.4,625.8 743.2,626.4 745.0,627.0 746.8,627.5 748.6,628.1 750.5,628.6 752.3,629.0 754.1,629.5 755.8,629.9 757.5,630.2 759.3,630.6 761.0,630.9 762.7,631.1 764.3,631.3 765.9,631.4 767.5,631.5 769.1,631.5 770.7,631.5 772.3,631.5 774.0,631.4 775.7,631.2 777.5,631.0 779.2,630.8 781.0,630.5 782.8,630.2 784.7,629.9 786.5,629.5 788.3,629.0 790.0,628.5 791.8,627.8 793.4,627.1 795.0,626.2 796.6,625.4 798.2,624.4 800.0,623.5 801.7,622.6 803.4,621.7 805.2,620.7 807.0,619.7 808.9,618.7 810.7,617.8 812.5,617.0 814.3,616.4 816.1,615.8 817.9,615.4 819.6,614.9 821.4,614.5 823.2,614.1 825.0,613.5 826.8,612.8 828.6,612.0 830.4,611.2 832.1,610.4 833.9,609.6 835.7,609.0 837.5,608.5 839.3,608.2 841.1,608.0 842.9,608.0 844.6,608.0 846.4,608.1 848.2,608.3 850.0,608.5 851.8,608.8 853.6,609.1 855.4,609.5 857.1,609.9 858.9,610.4 860.7,610.9 862.5,611.5 864.3,612.1 866.0,612.7 867.7,613.4 869.5,614.2 871.2,614.9 873.1,615.7 875.0,616.5 876.8,617.2 878.6,617.9 880.4,618.7 882.3,619.5 884.3,620.3 886.2,621.1 888.1,621.9 890.0,622.8 891.9,623.6 893.8,624.6 895.7,625.5 897.7,626.5 899.6,627.5 901.4,628.4 903.2,629.4 905.0,630.2 906.9,631.2 908.7,632.2 910.4,633.1 912.1,634.0 913.8,634.9 915.6,635.7 917.5,636.5 919.3,637.2 921.1,637.8 923.1,638.4 925.0,639.0 926.9,639.5 928.9,640.1 930.7,640.5 932.5,641.0 934.4,641.5 936.3,641.9 938.0,642.3 939.8,642.6 941.5,642.9 943.2,643.2 945.0,643.5 946.8,643.8 948.6,644.0 950.4,644.2 952.1,644.4 953.9,644.6 955.7,644.9 957.5,645.2 959.3,645.7 961.0,646.3 962.7,646.8 964.5,647.5 966.2,648.1 968.1,648.8 970.0,649.5 971.8,650.1 973.6,650.7 975.4,651.4 977.3,652.1 979.3,652.8 981.2,653.4 983.1,654.1 985.0,654.8 986.9,655.4 988.8,656.0 990.7,656.6 992.7,657.3 994.6,657.9 996.4,658.5 998.2,659.1 1000.0,659.8 1001.9,660.5 1003.8,661.2 1005.5,662.0 1007.3,662.7 1009.0,663.5 1010.7,664.1 1012.5,664.8 1014.3,665.3 1016.1,665.8 1018.0,666.2 1019.8,666.7 1021.6,667.0 1023.3,667.4 1025.0,667.8 1026.8,668.1 1028.5,668.5 1030.2,668.9 1031.8,669.2 1033.4,669.4 1035.0,669.5 1036.7,669.5 1038.4,669.3 1040.2,669.1 1041.9,668.9 1043.5,668.6 1045.0,668.2 1046.9,667.7 1048.6,667.1 1050.3,666.5 1052.5,666.0 1054.0,665.8 1055.7,665.7 1057.5,665.6 1059.4,665.6 1061.3,665.5 1063.2,665.4 1065.0,665.2 1066.8,665.0 1068.6,664.7 1070.4,664.4 1072.1,664.1 1073.9,663.7 1075.7,663.5 1077.5,663.2 1079.3,663.1 1081.1,663.0 1082.9,662.9 1084.6,662.8 1086.4,662.8 1088.2,662.7 1090.0,662.8 1091.8,662.8 1093.6,662.8 1095.4,662.9 1097.1,663.0 1098.9,663.1 1100.7,663.3 1102.5,663.5 1104.3,663.7 1106.1,664.0 1108.0,664.3 1109.8,664.7 1111.6,665.0 1113.3,665.4 1115.0,665.8 1116.8,666.1 1118.4,666.5 1120.0,666.8 1121.6,667.2 1123.2,667.7 1125.0,668.2 1126.7,668.8 1128.4,669.5 1130.2,670.3 1132.0,671.1 1133.9,671.9 1135.7,672.7 1137.5,673.5 1139.3,674.3 1141.1,675.1 1142.9,676.0 1144.6,676.8 1146.4,677.7 1148.2,678.6 1150.0,679.5 1151.8,680.4 1153.6,681.4 1155.4,682.4 1157.1,683.4 1158.9,684.5 1160.7,685.5 1162.5,686.5 1164.3,687.5 1166.1,688.6 1168.0,689.6 1169.8,690.7 1171.6,691.7 1173.3,692.6 1175.0,693.5 1176.8,694.4 1178.5,695.2 1180.2,696.0 1181.8,696.7 1183.4,697.2 1185.0,697.8 1186.7,698.1 1188.3,698.3 1190.0,698.5 1191.7,698.6 1193.3,698.8 1195.0,699.0 1196.7,699.4 1198.4,699.8 1200.2,700.3 1201.9,700.8 1203.5,701.2 1205.0,701.5 1206.9,701.8 1208.6,702.1 1210.3,702.2 1212.5,702.2 1214.1,702.2 1215.9,702.2 1217.8,702.1 1219.7,702.0 1221.6,701.9 1223.4,701.7 1225.0,701.5 1227.1,701.0 1228.8,700.3 1230.4,699.6 1232.5,699.0 1234.0,698.7 1235.6,698.5 1237.2,698.3 1239.0,698.1 1240.9,698.0 1242.9,697.9 1245.0,697.8 1246.8,697.7 1248.6,697.6 1250.6,697.6 1252.7,697.6 1254.8,697.6 1256.9,697.6 1258.9,697.6 1260.7,697.7 1262.5,697.8 1264.5,697.9 1266.4,698.0 1268.2,698.2 1269.9,698.4 1271.6,698.6 1273.3,698.8 1275.0,699.0 1276.8,699.2 1278.6,699.3 1280.4,699.4 1282.1,699.5 1283.9,699.7 1285.7,699.9 1287.5,700.2 1289.3,700.7 1291.1,701.2 1292.9,701.7 1294.6,702.3 1296.4,702.9 1298.2,703.5 1300.0,704.0 1301.8,704.4 1303.6,704.8 1305.5,705.2 1307.3,705.5 1309.1,705.8 1310.8,706.2 1312.5,706.5 1314.2,706.9 1315.7,707.4 1317.2,707.9 1318.7,708.4 1320.4,708.7 1322.5,709.0 1324.1,709.1 1325.8,709.2 1327.6,709.2 1329.5,709.2 1331.5,709.1 1333.5,709.1 1335.6,709.0 1337.8,709.0 1340.0,709.0 1341.7,709.0 1343.6,709.0 1345.5,708.9 1347.5,708.9 1349.5,708.9 1351.6,708.8 1353.6,708.8 1355.6,708.8 1357.5,708.8 1359.3,708.9 1361.0,708.9 1362.5,709.0 1364.8,709.2 1366.8,709.5 1368.6,709.8 1370.2,710.2 1371.7,710.6 1373.3,711.0 1375.0,711.5 1376.8,712.0 1378.5,712.6 1380.2,713.2 1382.0,713.9 1383.7,714.6 1385.6,715.3 1387.5,716.0 1389.4,716.7 1391.4,717.4 1393.6,718.2 1395.8,719.0 1397.9,719.8 1399.7,720.5 1401.3,721.1 1402.5,721.5" fill="none" stroke="#ff0000" stroke-width="1" stroke-dasharray="3 3"/>
</g>
<g shape-rendering="crispEdges">
<line x1="2" y1="792.5" x2="1648" y2="792.5" stroke="#c0c0c0" stroke-width="1" stroke-dasharray="3 3"/>
<line x1="2" y1="843.5" x2="1648" y2="843.5" stroke="#c0c0c0" stroke-width="1" stroke-dasharray="3 3"/>
<line x1="2" y1="904.5" x2="1648" y2="904.5" stroke="#c0c0c0" stroke-width="1" stroke-dasharray="3 3"/>
</g>
<g clip-path="url(#c3)" shape-rendering="crispEdges">
<polyline points="0.0,833.8 5.0,843.0 13.0,850.0 21.0,850.0 29.0,856.2 37.0,847.5 45.0,836.2 53.0,835.0 61.0,839.2 69.0,836.2 77.0,834.2 85.0,830.0 93.0,822.0 101.0,841.2 109.0,827.5 117.0,818.2 125.0,822.0 133.0,820.0 141.0,816.2 149.0,815.0 157.0,831.2 165.0,825.5 173.0,832.5 181.0,831.2 189.0,846.2 197.0,848.0 205.0,849.2 213.0,862.0 221.0,863.2 229.0,867.5 237.0,860.0 245.0,864.2 253.0,857.5 261.0,857.0 269.0,855.8 277.0,852.0 285.0,840.0 293.0,829.2 301.0,820.0 309.0,824.5 317.0,823.2 325.0,817.0 333.0,806.2 341.0,800.0 349.0,800.0 357.0,807.0 365.0,808.2 373.0,801.2 381.0,792.5 389.0,797.5 397.0,795.5 405.0,802.5 413.0,807.5 421.0,806.2 429.0,805.5 437.0,812.5 445.0,815.5 453.0,814.2 461.0,809.5 469.0,808.0 477.0,805.5 485.0,797.0 493.0,793.2 501.0,800.5 509.0,800.5 517.0,803.8 525.0,798.8 533.0,819.5 541.0,817.5 549.0,816.2 557.0,814.5 565.0,815.5 573.0,811.2 581.0,799.5 589.0,798.2 597.0,797.5 605.0,797.5 613.0,801.2 621.0,798.0 629.0,794.2 637.0,795.0 645.0,803.8 653.0,802.5 661.0,798.2 669.0,820.0 677.0,803.8 685.0,812.5 693.0,814.2 701.0,818.2 709.0,815.0 717.0,824.5 725.0,842.0 733.0,829.2 741.0,830.5 749.0,823.8 757.0,817.0 765.0,806.2 773.0,797.5 781.0,806.8 789.0,805.5 797.0,812.5 805.0,811.8 813.0,825.5 821.0,816.2 829.0,810.0 837.0,813.8 845.0,829.2 853.0,840.5 861.0,834.2 869.0,838.2 877.0,833.2 885.0,833.2 893.0,830.0 901.0,832.5 909.0,832.5 917.0,831.2 925.0,827.5 933.0,826.2 941.0,823.2 949.0,822.0 957.0,846.2 965.0,858.2 973.0,851.2 981.0,847.0 989.0,839.2 997.0,842.5 1005.0,840.5 1013.0,832.5 1021.0,829.2 1029.0,829.2 1037.0,824.5 1045.0,829.2 1053.0,828.0 1061.0,833.0 1069.0,845.5 1077.0,835.0 1085.0,839.5 1093.0,838.2 1101.0,835.0 1109.0,849.5 1117.0,857.0 1125.0,857.0 1133.0,867.5 1141.0,864.5 1149.0,861.2 1157.0,874.5 1165.0,858.2 1173.0,853.8 1181.0,846.8 1189.0,845.0 1197.0,849.2 1205.0,848.2 1213.0,851.8 1221.0,850.5 1229.0,838.8 1237.0,837.0 1245.0,858.8 1253.0,869.5 1261.0,859.5 1269.0,861.8 1277.0,861.2 1285.0,868.2 1293.0,849.2 1301.0,853.8 1309.0,858.0 1317.0,859.5 1325.0,851.2 1333.0,850.8 1341.0,860.8 1349.0,855.5 1357.0,860.5 1365.0,870.0 1373.0,876.2 1381.0,877.0 1389.0,881.2 1397.0,885.5 1405.0,885.0" fill="none" stroke="#1e90ff" stroke-width="1" />
</g>
<g shape-rendering="crispEdges" fill="#000">
<rect x="0" y="29" width="1649" height="1"/>
<rect x="1648" y="29" width="1" height="902"/>
<rect x="0" y="930" width="1649" height="1"/>
<rect x="0" y="582" width="1649" height="1"/><rect x="0" y="584" width="1649" height="1"/>
<rect x="0" y="583" width="1648" height="1" fill="#fff"/>
<rect x="0" y="754" width="1649" height="1"/><rect x="0" y="756" width="1649" height="1"/>
<rect x="0" y="755" width="1648" height="1" fill="#fff"/>
<rect x="53" y="931" width="1" height="3"/>
<rect x="117" y="931" width="1" height="3"/>
<rect x="181" y="931" width="1" height="3"/>
<rect x="245" y="931" width="1" height="3"/>
<rect x="309" y="931" width="1" height="3"/>
<rect x="373" y="931" width="1" height="3"/>
<rect x="437" y="931" width="1" height="3"/>
<rect x="501" y="931" width="1" height="3"/>
<rect x="565" y="931" width="1" height="3"/>
<rect x="629" y="931" width="1" height="3"/>
<rect x="693" y="931" width="1" height="3"/>
<rect x="757" y="931" width="1" height="3"/>
<rect x="821" y="931" width="1" height="3"/>
<rect x="885" y="931" width="1" height="3"/>
<rect x="949" y="931" width="1" height="3"/>
<rect x="1013" y="931" width="1" height="3"/>
<rect x="1077" y="931" width="1" height="3"/>
<rect x="1141" y="931" width="1" height="3"/>
<rect x="1205" y="931" width="1" height="3"/>
<rect x="1269" y="931" width="1" height="3"/>
<rect x="1333" y="931" width="1" height="3"/>
<rect x="1397" y="931" width="1" height="3"/>
<rect x="1649" y="51" width="2" height="1"/>
<rect x="1649" y="84" width="2" height="1"/>
<rect x="1649" y="117" width="2" height="1"/>
<rect x="1649" y="150" width="2" height="1"/>
<rect x="1649" y="183" width="2" height="1"/>
<rect x="1649" y="216" width="2" height="1"/>
<rect x="1649" y="249" width="2" height="1"/>
<rect x="1649" y="282" width="2" height="1"/>
<rect x="1649" y="315" width="2" height="1"/>
<rect x="1649" y="348" width="2" height="1"/>
<rect x="1649" y="381" width="2" height="1"/>
<rect x="1649" y="414" width="2" height="1"/>
<rect x="1649" y="447" width="2" height="1"/>
<rect x="1649" y="480" width="2" height="1"/>
<rect x="1649" y="513" width="2" height="1"/>
<rect x="1649" y="546" width="2" height="1"/>
<rect x="1649" y="579" width="2" height="1"/>
<rect x="1649" y="682" width="2" height="1"/>
</g>
<polygon points="1410,30 1420,30 1415,35" fill="#c0c0c0"/>
<text x="1655" y="55" textLength="33" lengthAdjust="spacingAndGlyphs">157.835</text>
<text x="1655" y="88" textLength="33" lengthAdjust="spacingAndGlyphs">157.310</text>
<text x="1655" y="121" textLength="33" lengthAdjust="spacingAndGlyphs">156.770</text>
<text x="1655" y="154" textLength="33" lengthAdjust="spacingAndGlyphs">156.245</text>
<text x="1655" y="187" textLength="33" lengthAdjust="spacingAndGlyphs">155.720</text>
<text x="1655" y="220" textLength="33" lengthAdjust="spacingAndGlyphs">155.180</text>
<text x="1655" y="253" textLength="33" lengthAdjust="spacingAndGlyphs">154.655</text>
<text x="1655" y="286" textLength="33" lengthAdjust="spacingAndGlyphs">154.115</text>
<text x="1655" y="319" textLength="33" lengthAdjust="spacingAndGlyphs">153.590</text>
<text x="1655" y="352" textLength="33" lengthAdjust="spacingAndGlyphs">153.065</text>
<text x="1655" y="385" textLength="33" lengthAdjust="spacingAndGlyphs">152.525</text>
<text x="1655" y="418" textLength="33" lengthAdjust="spacingAndGlyphs">152.000</text>
<text x="1655" y="451" textLength="33" lengthAdjust="spacingAndGlyphs">151.460</text>
<text x="1655" y="484" textLength="33" lengthAdjust="spacingAndGlyphs">150.935</text>
<text x="1655" y="517" textLength="33" lengthAdjust="spacingAndGlyphs">150.395</text>
<text x="1655" y="550" textLength="33" lengthAdjust="spacingAndGlyphs">149.870</text>
<text x="1655" y="583" textLength="33" lengthAdjust="spacingAndGlyphs">149.345</text>
<text x="1653" y="595" textLength="27" lengthAdjust="spacingAndGlyphs">0.7935</text>
<text x="1653" y="686" textLength="18" lengthAdjust="spacingAndGlyphs">0.00</text>
<text x="1653" y="751" textLength="30" lengthAdjust="spacingAndGlyphs">-0.5914</text>
<text x="1653" y="767" textLength="15" lengthAdjust="spacingAndGlyphs">100</text>
<text x="1653" y="796" textLength="10" lengthAdjust="spacingAndGlyphs">80</text>
<text x="1653" y="847" textLength="10" lengthAdjust="spacingAndGlyphs">50</text>
<text x="1653" y="908" textLength="10" lengthAdjust="spacingAndGlyphs">15</text>
<text x="1653" y="927" textLength="5" lengthAdjust="spacingAndGlyphs">0</text>
<g shape-rendering="crispEdges">
<rect x="1650" y="219" width="41" height="11" fill="#ff0000"/>
<rect x="1643.5" y="223.5" width="4" height="4" fill="#fff" stroke="#ff0000" stroke-width="1"/>
<rect x="1650" y="241" width="41" height="11" fill="#ff0000"/>
<rect x="1643.5" y="245.5" width="4" height="4" fill="#fff" stroke="#ff0000" stroke-width="1"/>
<rect x="1650" y="266" width="41" height="11" fill="#32cd32"/>
<rect x="1643.5" y="270.5" width="4" height="4" fill="#fff" stroke="#32cd32" stroke-width="1"/>
<rect x="1650" y="281" width="41" height="11" fill="#000000"/>
<rect x="1650" y="301" width="41" height="11" fill="#0000ff"/>
<rect x="1643.5" y="305.5" width="4" height="4" fill="#fff" stroke="#0000ff" stroke-width="1"/>
<rect x="1650" y="323" width="41" height="11" fill="#0000ff"/>
<rect x="1643.5" y="327.5" width="4" height="4" fill="#fff" stroke="#0000ff" stroke-width="1"/>
</g>
<text class="w" x="1655" y="228" fill="#fff" textLength="33" lengthAdjust="spacingAndGlyphs">155.037</text>
<text class="w" x="1655" y="250" fill="#fff" textLength="33" lengthAdjust="spacingAndGlyphs">154.683</text>
<text class="w" x="1655" y="275" fill="#fff" textLength="33" lengthAdjust="spacingAndGlyphs">154.281</text>
<text class="w" x="1655" y="290" fill="#fff" textLength="33" lengthAdjust="spacingAndGlyphs">154.049</text>
<text class="w" x="1655" y="310" fill="#fff" textLength="33" lengthAdjust="spacingAndGlyphs">153.719</text>
<text class="w" x="1655" y="332" fill="#fff" textLength="33" lengthAdjust="spacingAndGlyphs">153.365</text>
<text x="1.5" y="943" textLength="38" lengthAdjust="spacingAndGlyphs">Dec 2021</text>
<text x="52.5" y="943" textLength="54.5" lengthAdjust="spacingAndGlyphs">14 Dec 12:00</text>
<text x="116.5" y="943" textLength="54.5" lengthAdjust="spacingAndGlyphs">15 Dec 20:00</text>
<text x="180.5" y="943" textLength="54.5" lengthAdjust="spacingAndGlyphs">17 Dec 04:00</text>
<text x="244.5" y="943" textLength="54.5" lengthAdjust="spacingAndGlyphs">20 Dec 12:00</text>
<text x="308.5" y="943" textLength="54.5" lengthAdjust="spacingAndGlyphs">21 Dec 20:00</text>
<text x="372.5" y="943" textLength="54.5" lengthAdjust="spacingAndGlyphs">23 Dec 04:00</text>
<text x="436.5" y="943" textLength="54.5" lengthAdjust="spacingAndGlyphs">24 Dec 12:00</text>
<text x="500.5" y="943" textLength="54.5" lengthAdjust="spacingAndGlyphs">27 Dec 20:00</text>
<text x="564.5" y="943" textLength="54.5" lengthAdjust="spacingAndGlyphs">29 Dec 04:00</text>
<text x="628.5" y="943" textLength="54.5" lengthAdjust="spacingAndGlyphs">30 Dec 12:00</text>
<text x="692.5" y="943" textLength="47.0" lengthAdjust="spacingAndGlyphs">2 Jan 23:00</text>
<text x="756.5" y="943" textLength="47.0" lengthAdjust="spacingAndGlyphs">4 Jan 04:00</text>
<text x="820.5" y="943" textLength="47.0" lengthAdjust="spacingAndGlyphs">5 Jan 12:00</text>
<text x="884.5" y="943" textLength="47.0" lengthAdjust="spacingAndGlyphs">6 Jan 20:00</text>
<text x="948.5" y="943" textLength="52.5" lengthAdjust="spacingAndGlyphs">10 Jan 04:00</text>
<text x="1012.5" y="943" textLength="52.5" lengthAdjust="spacingAndGlyphs">11 Jan 12:00</text>
<text x="1076.5" y="943" textLength="52.5" lengthAdjust="spacingAndGlyphs">12 Jan 20:00</text>
<text x="1140.5" y="943" textLength="52.5" lengthAdjust="spacingAndGlyphs">14 Jan 04:00</text>
<text x="1204.5" y="943" textLength="52.5" lengthAdjust="spacingAndGlyphs">17 Jan 12:00</text>
<text x="1268.5" y="943" textLength="52.5" lengthAdjust="spacingAndGlyphs">18 Jan 20:00</text>
<text x="1332.5" y="943" textLength="52.5" lengthAdjust="spacingAndGlyphs">20 Jan 04:00</text>
<text x="1396.5" y="943" textLength="52.5" lengthAdjust="spacingAndGlyphs">21 Jan 12:00</text>
<text x="3.8" y="40.8" textLength="53.5" lengthAdjust="spacingAndGlyphs">GBPJPY-,H4</text>
<text x="63.2" y="40.8" textLength="33.2" lengthAdjust="spacingAndGlyphs">154.054</text>
<text x="99.1" y="40.8" textLength="33.2" lengthAdjust="spacingAndGlyphs">154.296</text>
<text x="134.9" y="40.8" textLength="33.2" lengthAdjust="spacingAndGlyphs">154.002</text>
<text x="170.8" y="40.8" textLength="33.2" lengthAdjust="spacingAndGlyphs">154.049</text>
<text x="-7.0" y="597.0" textLength="65.3" lengthAdjust="spacingAndGlyphs">MACD(12,26,9)</text>
<text x="62.0" y="597.0" textLength="30.5" lengthAdjust="spacingAndGlyphs">-0.5284</text>
<text x="95.9" y="597.0" textLength="31.3" lengthAdjust="spacingAndGlyphs">-0.3466</text>
<text x="-8.0" y="769.0" textLength="33.2" lengthAdjust="spacingAndGlyphs">RSI(14)</text>
<text x="28.1" y="769.0" textLength="32.8" lengthAdjust="spacingAndGlyphs">25.7504</text>
<rect x="758.5" y="48.5" width="61.0" height="18.0" fill="#fff" stroke="#ff0000" stroke-width="1" shape-rendering="crispEdges"/>
<text x="760.4" y="63.8" class="r0" font-size="16px" fill="#ff0000" textLength="58.5" lengthAdjust="spacingAndGlyphs">157.738</text>
<rect x="820" y="56" width="10" height="1" fill="#f00" shape-rendering="crispEdges"/>
<rect x="990.5" y="53.5" width="61.0" height="17.5" fill="#fff" stroke="#ff0000" stroke-width="1" shape-rendering="crispEdges"/>
<text x="992.4" y="68.6" class="r0" font-size="16px" fill="#ff0000" textLength="58.5" lengthAdjust="spacingAndGlyphs">157.669</text>
<rect x="1052" y="62" width="10" height="1" fill="#f00" shape-rendering="crispEdges"/>
<rect x="1216.5" y="260.5" width="73.0" height="24.0" fill="#fff" stroke="#ff0000" stroke-width="1" shape-rendering="crispEdges"/>
<text x="1217.6" y="281.0" class="r" font-size="22.5px" fill="#ff0000" textLength="71" lengthAdjust="spacingAndGlyphs">154.281</text>
<rect x="1206" y="272" width="8" height="1" fill="#f00" shape-rendering="crispEdges"/>
<rect x="1213.5" y="270.5" width="3" height="3" fill="#fff" stroke="#f00" shape-rendering="crispEdges"/>
<rect x="1326.5" y="287.5" width="61.0" height="18.0" fill="#fff" stroke="#ff0000" stroke-width="1" shape-rendering="crispEdges"/>
<text x="1328.4" y="302.8" class="r0" font-size="16px" fill="#ff0000" textLength="58.5" lengthAdjust="spacingAndGlyphs">153.896</text>
<rect x="1388.5" y="294.5" width="3" height="3" fill="#fff" stroke="#f00" shape-rendering="crispEdges"/>
<rect x="1392" y="296" width="6" height="1" fill="#f00" shape-rendering="crispEdges"/>
<rect x="1343" y="270" width="142" height="6" fill="#00ff00" shape-rendering="crispEdges"/>
<line x1="1307.5" y1="164.0" x2="1420.8" y2="304.5" stroke="#ff0000" stroke-width="3.0"/>
<polygon points="1426.5,311.5 1415.7,306.1 1423.5,299.8" fill="#ff0000"/>
<line x1="1328.0" y1="704.0" x2="1428.8" y2="748.4" stroke="#ff0000" stroke-width="3.0"/>
<polygon points="1437.0,752.0 1424.9,752.1 1428.9,743.0" fill="#ff0000"/>
<line x1="1310.0" y1="837.0" x2="1406.1" y2="889.7" stroke="#ff0000" stroke-width="3.0"/>
<polygon points="1414.0,894.0 1402.0,893.1 1406.8,884.3" fill="#ff0000"/>
</svg>
<svg id="toolbar" width="1696" height="27" viewBox="0 0 1696 27" style="position:absolute;left:0;top:0" font-family='"Liberation Sans", sans-serif'>
<defs>
<linearGradient id="gPlus" x1="0" y1="0" x2="0" y2="1"><stop offset="0" stop-color="#86ee84"/><stop offset="0.5" stop-color="#3ed03c"/><stop offset="1" stop-color="#14a814"/></linearGradient>
<linearGradient id="gGold" x1="0" y1="0" x2="1" y2="1"><stop offset="0" stop-color="#ffe468"/><stop offset="0.55" stop-color="#f0c030"/><stop offset="1" stop-color="#c98a14"/></linearGradient>
<linearGradient id="gBlue" x1="0" y1="0" x2="0" y2="1"><stop offset="0" stop-color="#5aa6f2"/><stop offset="1" stop-color="#1c5fd0"/></linearGradient>
<linearGradient id="gRed" x1="0" y1="0" x2="0" y2="1"><stop offset="0" stop-color="#ea5a3a"/><stop offset="1" stop-color="#d81c08"/></linearGradient>
<linearGradient id="gLens" x1="0" y1="0" x2="0" y2="1"><stop offset="0" stop-color="#eef8ff"/><stop offset="1" stop-color="#c4e4f8"/></linearGradient>
<linearGradient id="gCandle" x1="0" y1="0" x2="1" y2="0"><stop offset="0" stop-color="#22b83a"/><stop offset="0.5" stop-color="#6cf07a"/><stop offset="1" stop-color="#22b83a"/></linearGradient>
<pattern id="dots" width="2" height="2" patternUnits="userSpaceOnUse"><rect width="2" height="2" fill="#ffffff"/><rect width="1" height="1" fill="#f0f0f0"/><rect x="1" y="1" width="1" height="1" fill="#f0f0f0"/></pattern>
<linearGradient id="gRing" x1="0" y1="0" x2="1" y2="1"><stop offset="0" stop-color="#52a2f4"/><stop offset="0.5" stop-color="#1a6ae0"/><stop offset="1" stop-color="#0846b0"/></linearGradient>
<radialGradient id="gFace" cx="0.4" cy="0.35" r="0.7"><stop offset="0" stop-color="#ffffff"/><stop offset="1" stop-color="#dcebfb"/></radialGradient>
<linearGradient id="gTitle" x1="0" y1="0" x2="0" y2="1"><stop offset="0" stop-color="#9cc0f4"/><stop offset="1" stop-color="#3f7fe0"/></linearGradient>
</defs>
<path d="M-0.5 12 L2 14 L-0.5 16" stroke="#222" stroke-width="1.1" fill="none"/>
<circle cx="-0.3" cy="20.6" r="2" fill="#c8962a"/>
<rect x="9" y="2" width="1" height="21" fill="#a0a0a0" shape-rendering="crispEdges"/>
<rect x="10" y="2" width="1" height="21" fill="#ffffff" shape-rendering="crispEdges"/>
<g>
<path d="M19.8 5.8 h8 l3 3 v9.4 h-11 z" fill="#fbfbfb" stroke="#8a8a8a" stroke-width="1"/>
<path d="M27.8 5.8 v3 h3" fill="#e8e8e8" stroke="#8a8a8a" stroke-width="1"/>
<rect x="21.4" y="7.4" width="3" height="1.6" fill="#9a9a9a"/><rect x="21.4" y="10.4" width="7" height="1" fill="#aaa"/><rect x="21.4" y="12.6" width="5" height="1" fill="#aaa"/><rect x="21.4" y="14.8" width="3" height="1" fill="#aaa"/>
<path d="M27.7 11.6 h3.3 v3.7 h3.7 v3.3 h-3.7 v3.7 h-3.3 v-3.7 h-3.7 v-3.3 h3.7 z" fill="url(#gPlus)" stroke="#0b8a0b" stroke-width="0.8"/>
</g>
<text x="38.3" y="16" font-size="12.5px" fill="#1a1a1a" textLength="64.5" lengthAdjust="spacingAndGlyphs">New Order</text>
<g><path d="M115.2 17 Q114.4 15.6 115.4 14.2 L120.4 7.2 L131.4 14.8 L123.4 22 Z" fill="#9c640c"/>
<path d="M116 15.6 L123.5 20.3 L130.6 14 L130.8 14.9 L123.5 21.3 L115.8 16.5 Z" fill="#f4ead0"/>
<path d="M115.3 15.2 Q114.8 14.2 115.8 13 L120.3 6.2 L131 13.6 L123.3 20.3 Z" fill="url(#gGold)" stroke="#b4780f" stroke-width="0.8"/>
<path d="M118.8 12 L121.3 8.4 L126.8 12.3 L123.3 15.4 Z" fill="#fff08a" opacity="0.55"/></g>
<g><path d="M145.3 6.8 L149 5.6 L149 14.5 L145.3 14.5 Z" fill="#1ea4ff"/><path d="M149 5.6 L156.4 6.4 V14.5 H149 Z" fill="#2a7fe6" stroke="#1d62c8" stroke-width="0.6"/>
<path d="M150.6 9.4 L155.2 8.9 V10 L150.6 10.5 Z" fill="#e8f4ff"/><rect x="150.6" y="11.8" width="4.6" height="1" fill="#cfe6ff"/>
<path d="M146.3 20.3 a3.1 3.1 0 0 1 -0.2 -6.1 a3.6 3.6 0 0 1 6.6 -1 a2.8 2.8 0 0 1 4 1.9 a2.6 2.6 0 0 1 -0.4 5.2 z" fill="#f7f9fd" stroke="#5878b8" stroke-width="0.9"/><path d="M145 18.3 q6.5 1.8 13 0 q-0.5 1.7 -2 2 h-9.6 q-1.2 -0.6 -1.4 -2 z" fill="#bccbe6" opacity="0.9"/></g>
<g fill="none"><path d="M179 12.6 L179 20.4 A7.8 7.8 0 0 0 186.8 12.6 Z" fill="#8fc48f" opacity="0.55"/>
<circle cx="179" cy="12.6" r="7.4" stroke="#7f9fe6" stroke-width="1" opacity="0.45"/><circle cx="179" cy="12.6" r="5.3" stroke="#5f86e0" stroke-width="1" opacity="0.6"/><circle cx="179" cy="12.6" r="3.2" stroke="#4f78dc" stroke-width="1" opacity="0.7"/><circle cx="179" cy="12.4" r="1.7" fill="#2f5cd4" stroke="none"/>
<path d="M179.4 13 V20.4" stroke="#2fae30" stroke-width="1.6"/><path d="M179.4 20.5 A7.8 7.8 0 0 0 184 18.8" stroke="#3cae3c" stroke-width="1.1"/></g>
<g><path d="M199 10.8 L213.6 10.8 L207.2 21 Z" fill="#f9d64a" stroke="#d7a516" stroke-width="0.7"/><path d="M203 12 L206.8 19 L208.5 12 Z" fill="#fdeea0" opacity="0.8"/><ellipse cx="206.3" cy="10" rx="8" ry="2.7" fill="#4a98dc" stroke="#2d73b9" stroke-width="0.7"/><ellipse cx="205.8" cy="8" rx="4.2" ry="3" fill="#6fb4e8" stroke="#2d73b9" stroke-width="0.6"/>
<circle cx="210.5" cy="16.8" r="4.3" fill="#e02a1a" stroke="#b81408" stroke-width="0.6"/><rect x="208.9" y="15.2" width="3.3" height="3.3" fill="#fff"/></g>
<text x="218.6" y="16" font-size="12.5px" fill="#1a1a1a" textLength="72" lengthAdjust="spacingAndGlyphs">AutoTrading</text>
<rect x="298" y="0" width="1" height="25" fill="#a0a0a0" shape-rendering="crispEdges"/>
<rect x="299" y="0" width="1" height="25" fill="#ffffff" shape-rendering="crispEdges"/>
<rect x="302" y="3" width="3" height="1" fill="#9c9c9c" shape-rendering="crispEdges"/>
<rect x="302" y="4" width="3" height="1" fill="#f8f8f8" shape-rendering="crispEdges"/>
<rect x="302" y="5" width="3" height="1" fill="#9c9c9c" shape-rendering="crispEdges"/>
<rect x="302" y="6" width="3" height="1" fill="#f8f8f8" shape-rendering="crispEdges"/>
<rect x="302" y="7" width="3" height="1" fill="#9c9c9c" shape-rendering="crispEdges"/>
<rect x="302" y="8" width="3" height="1" fill="#f8f8f8" shape-rendering="crispEdges"/>
<rect x="302" y="9" width="3" height="1" fill="#9c9c9c" shape-rendering="crispEdges"/>
<rect x="302" y="10" width="3" height="1" fill="#f8f8f8" shape-rendering="crispEdges"/>
<rect x="302" y="11" width="3" height="1" fill="#9c9c9c" shape-rendering="crispEdges"/>
<rect x="302" y="12" width="3" height="1" fill="#f8f8f8" shape-rendering="crispEdges"/>
<rect x="302" y="13" width="3" height="1" fill="#9c9c9c" shape-rendering="crispEdges"/>
<rect x="302" y="14" width="3" height="1" fill="#f8f8f8" shape-rendering="crispEdges"/>
<rect x="302" y="15" width="3" height="1" fill="#9c9c9c" shape-rendering="crispEdges"/>
<rect x="302" y="16" width="3" height="1" fill="#f8f8f8" shape-rendering="crispEdges"/>
<rect x="302" y="17" width="3" height="1" fill="#9c9c9c" shape-rendering="crispEdges"/>
<rect x="302" y="18" width="3" height="1" fill="#f8f8f8" shape-rendering="crispEdges"/>
<rect x="302" y="19" width="3" height="1" fill="#9c9c9c" shape-rendering="crispEdges"/>
<rect x="302" y="20" width="3" height="1" fill="#f8f8f8" shape-rendering="crispEdges"/>
<rect x="302" y="21" width="3" height="1" fill="#9c9c9c" shape-rendering="crispEdges"/>
<rect x="302" y="22" width="3" height="1" fill="#f8f8f8" shape-rendering="crispEdges"/>
<g stroke="#555" stroke-width="1.25" fill="none">
<path d="M316.5 21 V7.6"/>
<path d="M313.9 18.5 H327.1"/>
</g>
<path d="M316.5 6.6 L314.8 8.9 L318.2 8.9 Z" fill="#555"/>
<path d="M328.1 18.5 L325.9 16.8 L325.9 20.2 Z" fill="#555"/>
<path d="M322.4 8.2 V16.4 M322.4 9.5 H325 M320 15.4 H322.4" stroke="#0a8a14" stroke-width="1.25" fill="none"/>
<rect x="336" y="1" width="26" height="23" fill="url(#dots)" shape-rendering="crispEdges"/>
<rect x="336" y="1" width="26" height="1" fill="#bdbdbd" shape-rendering="crispEdges"/>
<rect x="336" y="1" width="1" height="23" fill="#bdbdbd" shape-rendering="crispEdges"/>
<rect x="336" y="23" width="26" height="1" fill="#fff" shape-rendering="crispEdges"/>
<rect x="361" y="1" width="1" height="23" fill="#fff" shape-rendering="crispEdges"/>
<g stroke="#555" stroke-width="1.25" fill="none">
<path d="M344.5 21 V7.6"/>
<path d="M341.9 18.5 H355.1"/>
</g>
<path d="M344.5 6.6 L342.8 8.9 L346.2 8.9 Z" fill="#555"/>
<path d="M356.1 18.5 L353.9 16.8 L353.9 20.2 Z" fill="#555"/>
<rect x="350" y="5" width="1.2" height="12" fill="#147a22"/><rect x="348.4" y="7.9" width="4.2" height="6.7" fill="url(#gCandle)" stroke="#0f8a1c" stroke-width="0.9"/>
<g stroke="#555" stroke-width="1.25" fill="none">
<path d="M372.5 21 V7.6"/>
<path d="M369.9 18.5 H383.1"/>
</g>
<path d="M372.5 6.6 L370.8 8.9 L374.2 8.9 Z" fill="#555"/>
<path d="M384.1 18.5 L381.9 16.8 L381.9 20.2 Z" fill="#555"/>
<path d="M371.2 15.6 C373.5 13.8 375.2 10 377.4 10.4 C379.4 10.8 380.6 13.4 382.8 14" stroke="#2c9a3a" stroke-width="1.25" fill="none"/>
<rect x="393" y="2" width="1" height="21" fill="#a0a0a0" shape-rendering="crispEdges"/>
<rect x="394" y="2" width="1" height="21" fill="#ffffff" shape-rendering="crispEdges"/>
<path d="M411.8 15.2 L417.6 20.3" stroke="#a8801a" stroke-width="3.3" stroke-linecap="butt"/>
<path d="M412.0 15.4 L417.4 20.1" stroke="#ecd04a" stroke-width="1.8" stroke-linecap="butt"/>
<circle cx="408.0" cy="11" r="5.7" fill="url(#gLens)" stroke="#3f84c8" stroke-width="1.1"/>
<rect x="404.7" y="10" width="6.6" height="2" fill="#3f86b4"/>
<rect x="407.0" y="7.7" width="2" height="6.6" fill="#3f86b4"/>
<path d="M439.8 15.2 L445.6 20.3" stroke="#a8801a" stroke-width="3.3" stroke-linecap="butt"/>
<path d="M440.0 15.4 L445.4 20.1" stroke="#ecd04a" stroke-width="1.8" stroke-linecap="butt"/>
<circle cx="436.0" cy="11" r="5.7" fill="url(#gLens)" stroke="#3f84c8" stroke-width="1.1"/>
<rect x="432.7" y="10" width="6.6" height="2" fill="#3f86b4"/>
<rect x="458.1" y="5.0" width="7.9" height="7.9" fill="#4a9c1c"/>
<rect x="458.1" y="5.0" width="7.9" height="2.6" fill="#fff" opacity="0.18"/>
<path d="M459.3 8.5 h5.6 v3.6 h-1.1 v-0.9 h-3.4 v0.9 h-1.1 z" fill="#fff" opacity="0.95"/>
<rect x="460.4" y="9.6" width="3.4" height="0.9" fill="#9ad07a" opacity="0.7"/>
<rect x="459.2" y="6.1" width="1" height="1" fill="#fff" opacity="0.85"/>
<rect x="466.1" y="5.0" width="7.9" height="7.9" fill="#1d4fc8"/>
<rect x="466.1" y="5.0" width="7.9" height="2.6" fill="#fff" opacity="0.18"/>
<path d="M467.3 8.5 h5.6 v3.6 h-1.1 v-0.9 h-3.4 v0.9 h-1.1 z" fill="#fff" opacity="0.95"/>
<rect x="468.4" y="9.6" width="3.4" height="0.9" fill="#8aa8ee" opacity="0.7"/>
<rect x="467.2" y="6.1" width="1" height="1" fill="#fff" opacity="0.85"/>
<rect x="458.1" y="13.0" width="7.9" height="7.9" fill="#1d4fc8"/>
<rect x="458.1" y="13.0" width="7.9" height="2.6" fill="#fff" opacity="0.18"/>
<path d="M459.3 16.5 h5.6 v3.6 h-1.1 v-0.9 h-3.4 v0.9 h-1.1 z" fill="#fff" opacity="0.95"/>
<rect x="460.4" y="17.6" width="3.4" height="0.9" fill="#8aa8ee" opacity="0.7"/>
<rect x="459.2" y="14.1" width="1" height="1" fill="#fff" opacity="0.85"/>
<rect x="466.1" y="13.0" width="7.9" height="7.9" fill="#4a9c1c"/>
<rect x="466.1" y="13.0" width="7.9" height="2.6" fill="#fff" opacity="0.18"/>
<path d="M467.3 16.5 h5.6 v3.6 h-1.1 v-0.9 h-3.4 v0.9 h-1.1 z" fill="#fff" opacity="0.95"/>
<rect x="468.4" y="17.6" width="3.4" height="0.9" fill="#9ad07a" opacity="0.7"/>
<rect x="467.2" y="14.1" width="1" height="1" fill="#fff" opacity="0.85"/>
<rect x="483" y="2" width="1" height="21" fill="#a0a0a0" shape-rendering="crispEdges"/>
<rect x="484" y="2" width="1" height="21" fill="#ffffff" shape-rendering="crispEdges"/>
<rect x="488" y="1" width="25" height="23" fill="url(#dots)" shape-rendering="crispEdges"/>
<rect x="488" y="1" width="25" height="1" fill="#bdbdbd" shape-rendering="crispEdges"/>
<rect x="488" y="1" width="1" height="23" fill="#bdbdbd" shape-rendering="crispEdges"/>
<rect x="488" y="23" width="25" height="1" fill="#fff" shape-rendering="crispEdges"/>
<rect x="512" y="1" width="1" height="23" fill="#fff" shape-rendering="crispEdges"/>
<g stroke="#555" stroke-width="1.25" fill="none">
<path d="M496.5 21 V7.6"/>
<path d="M493.9 18.5 H507.1"/>
</g>
<path d="M496.5 6.6 L494.8 8.9 L498.2 8.9 Z" fill="#555"/>
<path d="M508.1 18.5 L505.9 16.8 L505.9 20.2 Z" fill="#555"/>
<path d="M501.4 9.4 V15.6 L505 12.5 Z" fill="#8be88a" stroke="#0a8a14" stroke-width="1.1"/>
<rect x="516" y="1" width="25" height="23" fill="url(#dots)" shape-rendering="crispEdges"/>
<rect x="516" y="1" width="25" height="1" fill="#bdbdbd" shape-rendering="crispEdges"/>
<rect x="516" y="1" width="1" height="23" fill="#bdbdbd" shape-rendering="crispEdges"/>
<rect x="516" y="23" width="25" height="1" fill="#fff" shape-rendering="crispEdges"/>
<rect x="540" y="1" width="1" height="23" fill="#fff" shape-rendering="crispEdges"/>
<g stroke="#555" stroke-width="1.25" fill="none">
<path d="M524.5 21 V7.6"/>
<path d="M521.9 18.5 H535.1"/>
</g>
<path d="M524.5 6.6 L522.8 8.9 L526.2 8.9 Z" fill="#555"/>
<path d="M536.1 18.5 L533.9 16.8 L533.9 20.2 Z" fill="#555"/>
<rect x="529.9" y="7" width="1.3" height="9.8" fill="#1a6eb4"/><path d="M531.4 12.4 H536.4" stroke="#c83c00" stroke-width="1.2"/><path d="M531 12.4 L534.2 10 L533.5 12.4 L534.2 14.8 Z" fill="#c83c00"/>
<rect x="545" y="2" width="1" height="21" fill="#a0a0a0" shape-rendering="crispEdges"/>
<rect x="546" y="2" width="1" height="21" fill="#ffffff" shape-rendering="crispEdges"/>
<path d="M556.5 5.5 h6 l3 3 v9.5 h-9 z" fill="#fafafa" stroke="#8a8a8a" stroke-width="1"/><path d="M562.5 5.5 v3 h3" fill="#e6e6e6" stroke="#8a8a8a" stroke-width="1"/>
<path d="M559 9 q-1.2 0 -1.2 1.4 v1 q0 1 -0.8 1 q0.8 0 0.8 1 v1 q0 1.4 1.2 1.4" stroke="#666" stroke-width="0.9" fill="none"/>
<path d="M563.4 11.6 h3.3 v3.7 h3.7 v3.3 h-3.7 v3.7 h-3.3 v-3.7 h-3.7 v-3.3 h3.7 z" fill="url(#gPlus)" stroke="#0b8a0b" stroke-width="0.8"/>
<polygon points="577,12 583,12 580.0,15" fill="#000"/>
<circle cx="601" cy="13" r="7.1" fill="url(#gFace)" stroke="url(#gRing)" stroke-width="2.1"/>
<path d="M600.6 9.4 V13.3 H603.6" stroke="#333" stroke-width="1.1" fill="none"/>
<rect x="600.5" y="7.7" width="0.9" height="0.9" fill="#8a8a8a"/>
<rect x="600.5" y="17.4" width="0.9" height="0.9" fill="#8a8a8a"/>
<rect x="595.8" y="12.6" width="0.9" height="0.9" fill="#8a8a8a"/>
<rect x="605.3" y="12.6" width="0.9" height="0.9" fill="#8a8a8a"/>
<rect x="597.1" y="9.2" width="0.9" height="0.9" fill="#8a8a8a"/>
<rect x="603.9" y="9.2" width="0.9" height="0.9" fill="#8a8a8a"/>
<rect x="597.1" y="15.9" width="0.9" height="0.9" fill="#8a8a8a"/>
<rect x="603.9" y="15.9" width="0.9" height="0.9" fill="#8a8a8a"/>
<rect x="599.8" y="15" width="2.2" height="0.9" fill="#7ab0f0"/>
<polygon points="615,12 621,12 618.7,15" fill="#000"/>
<rect x="632.5" y="6.5" width="15" height="13" fill="#fdfeff" stroke="#3a74cc" stroke-width="1"/><rect x="632" y="6" width="16" height="2.6" fill="url(#gTitle)"/><rect x="633" y="14" width="14" height="1" fill="#4a84dc"/>
<path d="M634.2 12.3 h1.8 l1.6 -1 h1.6 l1.6 -0.8 h1.8 l1.2 0.5 l1.8 -0.9" stroke="#a82a10" stroke-width="1.2" fill="none"/><path d="M635 17.5 l1.8 -0.5 l1.6 0.6 l2.4 -1.9 l1.6 -0.3 l1.6 1.4 l1.4 1" stroke="#1f9a2f" stroke-width="1.2" fill="none"/>
<polygon points="654,12 660,12 657.6,15" fill="#000"/>
<rect x="666" y="0" width="1" height="25" fill="#a0a0a0" shape-rendering="crispEdges"/>
<rect x="667" y="0" width="1" height="25" fill="#ffffff" shape-rendering="crispEdges"/>
<rect x="670" y="3" width="3" height="1" fill="#9c9c9c" shape-rendering="crispEdges"/>
<rect x="670" y="4" width="3" height="1" fill="#f8f8f8" shape-rendering="crispEdges"/>
<rect x="670" y="5" width="3" height="1" fill="#9c9c9c" shape-rendering="crispEdges"/>
<rect x="670" y="6" width="3" height="1" fill="#f8f8f8" shape-rendering="crispEdges"/>
<rect x="670" y="7" width="3" height="1" fill="#9c9c9c" shape-rendering="crispEdges"/>
<rect x="670" y="8" width="3" height="1" fill="#f8f8f8" shape-rendering="crispEdges"/>
<rect x="670" y="9" width="3" height="1" fill="#9c9c9c" shape-rendering="crispEdges"/>
<rect x="670" y="10" width="3" height="1" fill="#f8f8f8" shape-rendering="crispEdges"/>
<rect x="670" y="11" width="3" height="1" fill="#9c9c9c" shape-rendering="crispEdges"/>
<rect x="670" y="12" width="3" height="1" fill="#f8f8f8" shape-rendering="crispEdges"/>
<rect x="670" y="13" width="3" height="1" fill="#9c9c9c" shape-rendering="crispEdges"/>
<rect x="670" y="14" width="3" height="1" fill="#f8f8f8" shape-rendering="crispEdges"/>
<rect x="670" y="15" width="3" height="1" fill="#9c9c9c" shape-rendering="crispEdges"/>
<rect x="670" y="16" width="3" height="1" fill="#f8f8f8" shape-rendering="crispEdges"/>
<rect x="670" y="17" width="3" height="1" fill="#9c9c9c" shape-rendering="crispEdges"/>
<rect x="670" y="18" width="3" height="1" fill="#f8f8f8" shape-rendering="crispEdges"/>
<rect x="670" y="19" width="3" height="1" fill="#9c9c9c" shape-rendering="crispEdges"/>
<rect x="670" y="20" width="3" height="1" fill="#f8f8f8" shape-rendering="crispEdges"/>
<rect x="670" y="21" width="3" height="1" fill="#9c9c9c" shape-rendering="crispEdges"/>
<rect x="670" y="22" width="3" height="1" fill="#f8f8f8" shape-rendering="crispEdges"/>
<rect x="676" y="1" width="25" height="23" fill="url(#dots)" shape-rendering="crispEdges"/>
<rect x="676" y="1" width="25" height="1" fill="#bdbdbd" shape-rendering="crispEdges"/>
<rect x="676" y="1" width="1" height="23" fill="#bdbdbd" shape-rendering="crispEdges"/>
<rect x="676" y="23" width="25" height="1" fill="#fff" shape-rendering="crispEdges"/>
<rect x="700" y="1" width="1" height="23" fill="#fff" shape-rendering="crispEdges"/>
<path d="M684 5.6 V17.6 L686.9 15.2 L689.3 20 L691.2 19.1 L688.9 14.5 L692.4 14 Z" fill="#4b4b4b"/>
<path d="M716.5 6 V11.5 M716.5 15.5 V21 M709 13.5 H715 M718 13.5 H724" stroke="#555" stroke-width="1.1" fill="none" shape-rendering="crispEdges"/>
<rect x="733" y="2" width="1" height="21" fill="#a0a0a0" shape-rendering="crispEdges"/>
<rect x="734" y="2" width="1" height="21" fill="#ffffff" shape-rendering="crispEdges"/>
<rect x="750" y="7" width="1.3" height="13" fill="#555"/>
<rect x="773" y="12.8" width="12" height="1.3" fill="#555"/>
<path d="M801 19.8 L813 8" stroke="#555" stroke-width="1.2"/>
<g stroke="#505050" stroke-width="1" fill="none"><path d="M826.6 15.2 L840.8 7.6 M828 19.8 L841.4 12.6"/><path d="M833.4 8.6 L829.4 19 M836.6 7 L832.8 17.6 M839.8 4.8 L836.2 15.4"/></g>
<text x="837.6" y="21.8" font-size="7px" font-weight="bold" fill="#333">E</text>
<line x1="856" y1="6.5" x2="869" y2="6.5" stroke="#666" stroke-width="1" stroke-dasharray="1 1" shape-rendering="crispEdges"/>
<line x1="856" y1="9.5" x2="869" y2="9.5" stroke="#666" stroke-width="1" stroke-dasharray="1 1" shape-rendering="crispEdges"/>
<line x1="856" y1="13.5" x2="869" y2="13.5" stroke="#666" stroke-width="1" stroke-dasharray="1 1" shape-rendering="crispEdges"/>
<line x1="856" y1="17.5" x2="869" y2="17.5" stroke="#666" stroke-width="1" stroke-dasharray="1 1" shape-rendering="crispEdges"/>
<text x="866" y="21.8" font-size="7px" font-weight="bold" fill="#333">F</text>
<text x="886.6" y="18" font-size="12px" font-weight="bold" fill="#5a5a5a" textLength="8.4" lengthAdjust="spacingAndGlyphs">A</text>
<rect x="913.5" y="7.5" width="11" height="12" fill="none" stroke="#666" stroke-width="1" stroke-dasharray="1 1" shape-rendering="crispEdges"/>
<text x="915" y="18" font-size="11.5px" font-weight="bold" fill="#5a5a5a" textLength="8" lengthAdjust="spacingAndGlyphs">T</text>
<path d="M943.6 6.6 L947 9.6 L943.6 12 L940.2 9.6 Z" fill="#484848"/><path d="M950.8 14.2 L954.2 17 L950.8 19.8 L947.4 17 Z" fill="#484848"/><path d="M941.6 13.8 L943.8 16 L948.8 10.8" stroke="#484848" stroke-width="1.4" fill="none"/>
<polygon points="960,12 966,12 963.5,15" fill="#000"/>
<rect x="972" y="0" width="1" height="25" fill="#a0a0a0" shape-rendering="crispEdges"/>
<rect x="973" y="0" width="1" height="25" fill="#ffffff" shape-rendering="crispEdges"/>
<rect x="976" y="3" width="3" height="1" fill="#9c9c9c" shape-rendering="crispEdges"/>
<rect x="976" y="4" width="3" height="1" fill="#f8f8f8" shape-rendering="crispEdges"/>
<rect x="976" y="5" width="3" height="1" fill="#9c9c9c" shape-rendering="crispEdges"/>
<rect x="976" y="6" width="3" height="1" fill="#f8f8f8" shape-rendering="crispEdges"/>
<rect x="976" y="7" width="3" height="1" fill="#9c9c9c" shape-rendering="crispEdges"/>
<rect x="976" y="8" width="3" height="1" fill="#f8f8f8" shape-rendering="crispEdges"/>
<rect x="976" y="9" width="3" height="1" fill="#9c9c9c" shape-rendering="crispEdges"/>
<rect x="976" y="10" width="3" height="1" fill="#f8f8f8" shape-rendering="crispEdges"/>
<rect x="976" y="11" width="3" height="1" fill="#9c9c9c" shape-rendering="crispEdges"/>
<rect x="976" y="12" width="3" height="1" fill="#f8f8f8" shape-rendering="crispEdges"/>
<rect x="976" y="13" width="3" height="1" fill="#9c9c9c" shape-rendering="crispEdges"/>
<rect x="976" y="14" width="3" height="1" fill="#f8f8f8" shape-rendering="crispEdges"/>
<rect x="976" y="15" width="3" height="1" fill="#9c9c9c" shape-rendering="crispEdges"/>
<rect x="976" y="16" width="3" height="1" fill="#f8f8f8" shape-rendering="crispEdges"/>
<rect x="976" y="17" width="3" height="1" fill="#9c9c9c" shape-rendering="crispEdges"/>
<rect x="976" y="18" width="3" height="1" fill="#f8f8f8" shape-rendering="crispEdges"/>
<rect x="976" y="19" width="3" height="1" fill="#9c9c9c" shape-rendering="crispEdges"/>
<rect x="976" y="20" width="3" height="1" fill="#f8f8f8" shape-rendering="crispEdges"/>
<rect x="976" y="21" width="3" height="1" fill="#9c9c9c" shape-rendering="crispEdges"/>
<rect x="976" y="22" width="3" height="1" fill="#f8f8f8" shape-rendering="crispEdges"/>
<rect x="1122" y="1" width="26" height="23" fill="url(#dots)" shape-rendering="crispEdges"/>
<rect x="1122" y="1" width="26" height="1" fill="#bdbdbd" shape-rendering="crispEdges"/>
<rect x="1122" y="1" width="1" height="23" fill="#bdbdbd" shape-rendering="crispEdges"/>
<rect x="1122" y="23" width="26" height="1" fill="#fff" shape-rendering="crispEdges"/>
<rect x="1147" y="1" width="1" height="23" fill="#fff" shape-rendering="crispEdges"/>
<text x="987.3" y="16.9" font-size="9.8px" fill="#3c3c3c" style="text-rendering:geometricPrecision" textLength="13.2" lengthAdjust="spacingAndGlyphs">M1</text>
<text x="1015.4" y="16.9" font-size="9.8px" fill="#3c3c3c" style="text-rendering:geometricPrecision" textLength="13.0" lengthAdjust="spacingAndGlyphs">M5</text>
<text x="1041.3" y="16.9" font-size="9.8px" fill="#3c3c3c" style="text-rendering:geometricPrecision" textLength="18.2" lengthAdjust="spacingAndGlyphs">M15</text>
<text x="1069.4" y="16.9" font-size="9.8px" fill="#3c3c3c" style="text-rendering:geometricPrecision" textLength="18.1" lengthAdjust="spacingAndGlyphs">M30</text>
<text x="1100.4" y="16.9" font-size="9.8px" fill="#3c3c3c" style="text-rendering:geometricPrecision" textLength="11.9" lengthAdjust="spacingAndGlyphs">H1</text>
<text x="1127.7" y="16.9" font-size="9.8px" fill="#3c3c3c" style="text-rendering:geometricPrecision" textLength="12.3" lengthAdjust="spacingAndGlyphs">H4</text>
<text x="1156.6" y="16.9" font-size="9.8px" fill="#3c3c3c" style="text-rendering:geometricPrecision" textLength="11.4" lengthAdjust="spacingAndGlyphs">D1</text>
<text x="1184.3" y="16.9" font-size="9.8px" fill="#3c3c3c" style="text-rendering:geometricPrecision" textLength="13.7" lengthAdjust="spacingAndGlyphs">W1</text>
<text x="1210.7" y="16.9" font-size="9.8px" fill="#3c3c3c" style="text-rendering:geometricPrecision" textLength="14.9" lengthAdjust="spacingAndGlyphs">MN</text>
<rect x="1233" y="0" width="1" height="25" fill="#a0a0a0" shape-rendering="crispEdges"/>
<rect x="1234" y="0" width="1" height="25" fill="#ffffff" shape-rendering="crispEdges"/>
<path d="M1647.2 13.8 L1643 17.6" stroke="#2a5fd0" stroke-width="2.4" stroke-linecap="round"/><circle cx="1650.6" cy="10.3" r="3.9" fill="#f4f6fc" stroke="#2f68d8" stroke-width="1.2"/>
<ellipse cx="1673" cy="21.3" rx="5.5" ry="0.8" fill="#d4d4d4"/><path d="M1668 15 a5.6 4.4 0 1 1 4.5 4.3 l-2.2 2 l0.3 -2.6 a5 4.4 0 0 1 -2.6 -3.7 z" fill="#eceef4" stroke="#b4b4b4" stroke-width="0.8"/>
<circle cx="1681.5" cy="10.5" r="8.2" fill="url(#gRed)"/>
<text x="1677.3" y="15.1" font-size="14px" font-weight="bold" fill="#fff" font-family='"Liberation Serif", serif'>1</text>
</svg>
<svg id="panel" width="216" height="64" viewBox="0 46 216 64" style="position:absolute;left:0;top:46px" font-family='"Liberation Sans", sans-serif'>
<defs>
<linearGradient id="pTop" x1="0" y1="0" x2="0" y2="1"><stop offset="0" stop-color="#fb5353"/><stop offset="1" stop-color="#e23232"/></linearGradient>
<linearGradient id="pBot" gradientUnits="userSpaceOnUse" x1="0" y1="73" x2="0" y2="106"><stop offset="0" stop-color="#dc2a2a"/><stop offset="1" stop-color="#b40000"/></linearGradient>
<linearGradient id="pBtn" x1="0" y1="0" x2="0" y2="1"><stop offset="0" stop-color="#f2f2f2"/><stop offset="0.45" stop-color="#e6e6e6"/><stop offset="0.5" stop-color="#d6d6d6"/><stop offset="1" stop-color="#cfcfcf"/></linearGradient>
</defs>
<g shape-rendering="crispEdges">
<rect x="0" y="49" width="44" height="25" fill="url(#pTop)"/>
<rect x="0" y="73" width="101" height="33" fill="url(#pBot)"/>
<rect x="0" y="49" width="44" height="1" fill="#d41818"/><rect x="43" y="49" width="1" height="24" fill="#d41818"/>
<rect x="43" y="73" width="58" height="1" fill="#c40a0a"/><rect x="100" y="73" width="1" height="33" fill="#b80000"/><rect x="0" y="105" width="101" height="1" fill="#b00000"/>
<rect x="0" y="72" width="40" height="1" fill="#a80000"/><rect x="0" y="73" width="40" height="1" fill="#ee5a5a"/>
<rect x="159" y="49" width="52" height="25" fill="url(#pTop)"/>
<rect x="103" y="73" width="108" height="33" fill="url(#pBot)"/>
<rect x="159" y="49" width="52" height="1" fill="#d41818"/><rect x="159" y="49" width="1" height="24" fill="#d41818"/><rect x="210" y="49" width="1" height="57" fill="#c00808"/>
<rect x="103" y="73" width="57" height="1" fill="#c40a0a"/><rect x="103" y="73" width="1" height="33" fill="#c00808"/><rect x="103" y="105" width="108" height="1" fill="#b00000"/>
<rect x="163" y="72" width="44" height="1" fill="#a80000"/><rect x="163" y="73" width="44" height="1" fill="#ee5a5a"/>
<rect x="46.5" y="49.5" width="110" height="21" fill="#fff" stroke="#abadb3" stroke-width="1"/>
<rect x="48" y="51" width="19" height="18" fill="url(#pBtn)"/><rect x="67" y="50" width="1" height="20" fill="#abadb3"/>
<rect x="136" y="51" width="19" height="18" fill="url(#pBtn)"/><rect x="135" y="50" width="1" height="20" fill="#abadb3"/>
</g>
<polygon points="53.6,58 59,58 56.3,61" fill="#4866c8"/>
<polygon points="142.8,61 148.4,61 145.6,58" fill="#4866c8"/>
<text x="108.3" y="63.8" font-size="12px" fill="#1a1a1a" textLength="23.2" lengthAdjust="spacingAndGlyphs">1.00</text>
<text x="4" y="64.8" font-size="12px" fill="#fff" textLength="26" lengthAdjust="spacingAndGlyphs">SELL</text>
<text x="172.3" y="64.9" font-size="12px" fill="#fff" textLength="23.8" lengthAdjust="spacingAndGlyphs">BUY</text>
<text x="14.6" y="101" font-size="11.5px" font-weight="bold" fill="#fff" textLength="21.4" lengthAdjust="spacingAndGlyphs">154</text>
<text x="38.2" y="101.6" font-size="35.5px" fill="#fff" stroke="url(#pBot)" stroke-width="0.9" textLength="36.8" lengthAdjust="spacingAndGlyphs">04</text>
<text x="78.6" y="85.2" font-size="13px" font-weight="bold" fill="#fff" textLength="8" lengthAdjust="spacingAndGlyphs">9</text>
<text x="125" y="100.8" font-size="11.5px" font-weight="bold" fill="#fff" textLength="21.4" lengthAdjust="spacingAndGlyphs">154</text>
<text x="149.2" y="101.3" font-size="35.5px" fill="#fff" stroke="url(#pBot)" stroke-width="0.9" textLength="36.8" lengthAdjust="spacingAndGlyphs">08</text>
<text x="189.6" y="85" font-size="13px" font-weight="bold" fill="#fff" textLength="7.6" lengthAdjust="spacingAndGlyphs">5</text>
</svg>
</body></html>
